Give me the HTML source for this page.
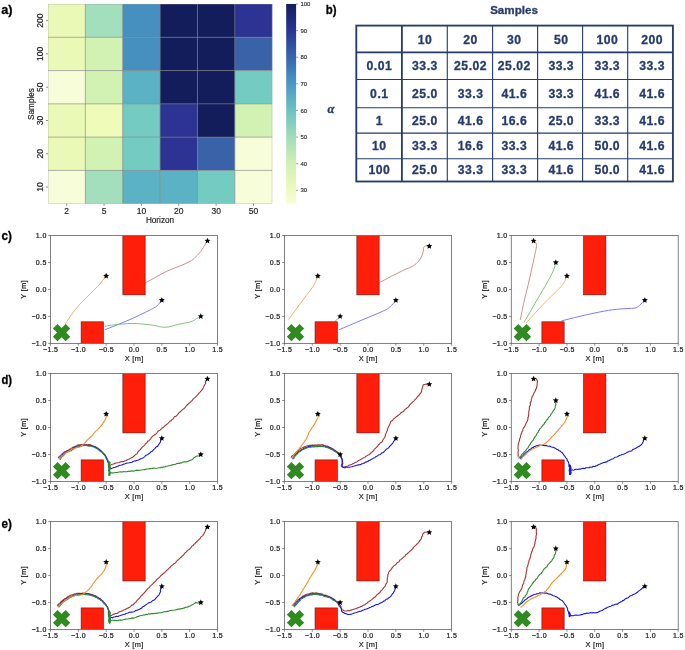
<!DOCTYPE html>
<html><head><meta charset="utf-8"><title>Figure</title>
<style>html,body{margin:0;padding:0;background:#fff;}body{width:685px;height:650px;overflow:hidden;font-family:"Liberation Sans",sans-serif;}svg{display:block;will-change:transform;}</style>
</head><body>
<svg width="685" height="650" viewBox="0 0 685 650"><rect x="48.00" y="4.00" width="37.42" height="33.33" fill="#ebf9b7"/>
<rect x="85.37" y="4.00" width="37.42" height="33.33" fill="#a3dfbd"/>
<rect x="122.73" y="4.00" width="37.42" height="33.33" fill="#4590be"/>
<rect x="160.10" y="4.00" width="37.42" height="33.33" fill="#131d5b"/>
<rect x="197.47" y="4.00" width="37.42" height="33.33" fill="#131d5b"/>
<rect x="234.83" y="4.00" width="37.42" height="33.33" fill="#2c3393"/>
<rect x="48.00" y="37.28" width="37.42" height="33.33" fill="#ebf9b7"/>
<rect x="85.37" y="37.28" width="37.42" height="33.33" fill="#d2f2b4"/>
<rect x="122.73" y="37.28" width="37.42" height="33.33" fill="#4590be"/>
<rect x="160.10" y="37.28" width="37.42" height="33.33" fill="#131d5b"/>
<rect x="197.47" y="37.28" width="37.42" height="33.33" fill="#131d5b"/>
<rect x="234.83" y="37.28" width="37.42" height="33.33" fill="#3a62a9"/>
<rect x="48.00" y="70.57" width="37.42" height="33.33" fill="#f7fdd8"/>
<rect x="85.37" y="70.57" width="37.42" height="33.33" fill="#d2f2b4"/>
<rect x="122.73" y="70.57" width="37.42" height="33.33" fill="#5ab2c4"/>
<rect x="160.10" y="70.57" width="37.42" height="33.33" fill="#131d5b"/>
<rect x="197.47" y="70.57" width="37.42" height="33.33" fill="#131d5b"/>
<rect x="234.83" y="70.57" width="37.42" height="33.33" fill="#74cbc2"/>
<rect x="48.00" y="103.85" width="37.42" height="33.33" fill="#ebf9b7"/>
<rect x="85.37" y="103.85" width="37.42" height="33.33" fill="#eefbb9"/>
<rect x="122.73" y="103.85" width="37.42" height="33.33" fill="#74cbc2"/>
<rect x="160.10" y="103.85" width="37.42" height="33.33" fill="#2c3393"/>
<rect x="197.47" y="103.85" width="37.42" height="33.33" fill="#131d5b"/>
<rect x="234.83" y="103.85" width="37.42" height="33.33" fill="#d2f2b4"/>
<rect x="48.00" y="137.13" width="37.42" height="33.33" fill="#ebf9b7"/>
<rect x="85.37" y="137.13" width="37.42" height="33.33" fill="#d2f2b4"/>
<rect x="122.73" y="137.13" width="37.42" height="33.33" fill="#74cbc2"/>
<rect x="160.10" y="137.13" width="37.42" height="33.33" fill="#2c3393"/>
<rect x="197.47" y="137.13" width="37.42" height="33.33" fill="#3a62a9"/>
<rect x="234.83" y="137.13" width="37.42" height="33.33" fill="#f7fdd8"/>
<rect x="48.00" y="170.42" width="37.42" height="33.33" fill="#f7fdd8"/>
<rect x="85.37" y="170.42" width="37.42" height="33.33" fill="#a3dfbd"/>
<rect x="122.73" y="170.42" width="37.42" height="33.33" fill="#5ab2c4"/>
<rect x="160.10" y="170.42" width="37.42" height="33.33" fill="#5ab2c4"/>
<rect x="197.47" y="170.42" width="37.42" height="33.33" fill="#74cbc2"/>
<rect x="234.83" y="170.42" width="37.42" height="33.33" fill="#f7fdd8"/>
<line x1="85.37" y1="4.0" x2="85.37" y2="203.7" stroke="#7c7c7c" stroke-width="0.6"/>
<line x1="122.73" y1="4.0" x2="122.73" y2="203.7" stroke="#7c7c7c" stroke-width="0.6"/>
<line x1="160.10" y1="4.0" x2="160.10" y2="203.7" stroke="#7c7c7c" stroke-width="0.6"/>
<line x1="197.47" y1="4.0" x2="197.47" y2="203.7" stroke="#7c7c7c" stroke-width="0.6"/>
<line x1="234.83" y1="4.0" x2="234.83" y2="203.7" stroke="#7c7c7c" stroke-width="0.6"/>
<line x1="48.0" y1="37.28" x2="272.2" y2="37.28" stroke="#7c7c7c" stroke-width="0.6"/>
<line x1="48.0" y1="70.57" x2="272.2" y2="70.57" stroke="#7c7c7c" stroke-width="0.6"/>
<line x1="48.0" y1="103.85" x2="272.2" y2="103.85" stroke="#7c7c7c" stroke-width="0.6"/>
<line x1="48.0" y1="137.13" x2="272.2" y2="137.13" stroke="#7c7c7c" stroke-width="0.6"/>
<line x1="48.0" y1="170.42" x2="272.2" y2="170.42" stroke="#7c7c7c" stroke-width="0.6"/>
<rect x="48.2" y="4.2" width="223.80" height="199.30" fill="none" stroke="#9a9a9a" stroke-width="0.4" opacity="0.7"/>
<line x1="46.0" y1="20.64" x2="48.0" y2="20.64" stroke="#555" stroke-width="0.7"/>
<text x="43.3" y="20.64" transform="rotate(-90 43.3 20.64)" text-anchor="middle" font-size="8.5" fill="#1e1e1e" stroke="#1e1e1e" stroke-width="0.18" font-family="Liberation Sans, sans-serif">200</text>
<line x1="46.0" y1="53.92" x2="48.0" y2="53.92" stroke="#555" stroke-width="0.7"/>
<text x="43.3" y="53.92" transform="rotate(-90 43.3 53.92)" text-anchor="middle" font-size="8.5" fill="#1e1e1e" stroke="#1e1e1e" stroke-width="0.18" font-family="Liberation Sans, sans-serif">100</text>
<line x1="46.0" y1="87.21" x2="48.0" y2="87.21" stroke="#555" stroke-width="0.7"/>
<text x="43.3" y="87.21" transform="rotate(-90 43.3 87.21)" text-anchor="middle" font-size="8.5" fill="#1e1e1e" stroke="#1e1e1e" stroke-width="0.18" font-family="Liberation Sans, sans-serif">50</text>
<line x1="46.0" y1="120.49" x2="48.0" y2="120.49" stroke="#555" stroke-width="0.7"/>
<text x="43.3" y="120.49" transform="rotate(-90 43.3 120.49)" text-anchor="middle" font-size="8.5" fill="#1e1e1e" stroke="#1e1e1e" stroke-width="0.18" font-family="Liberation Sans, sans-serif">30</text>
<line x1="46.0" y1="153.77" x2="48.0" y2="153.77" stroke="#555" stroke-width="0.7"/>
<text x="43.3" y="153.77" transform="rotate(-90 43.3 153.77)" text-anchor="middle" font-size="8.5" fill="#1e1e1e" stroke="#1e1e1e" stroke-width="0.18" font-family="Liberation Sans, sans-serif">20</text>
<line x1="46.0" y1="187.06" x2="48.0" y2="187.06" stroke="#555" stroke-width="0.7"/>
<text x="43.3" y="187.06" transform="rotate(-90 43.3 187.06)" text-anchor="middle" font-size="8.5" fill="#1e1e1e" stroke="#1e1e1e" stroke-width="0.18" font-family="Liberation Sans, sans-serif">10</text>
<line x1="66.68" y1="203.7" x2="66.68" y2="205.7" stroke="#555" stroke-width="0.7"/>
<text x="66.68" y="213.6" text-anchor="middle" font-size="8.5" fill="#1e1e1e" stroke="#1e1e1e" stroke-width="0.18" font-family="Liberation Sans, sans-serif">2</text>
<line x1="104.05" y1="203.7" x2="104.05" y2="205.7" stroke="#555" stroke-width="0.7"/>
<text x="104.05" y="213.6" text-anchor="middle" font-size="8.5" fill="#1e1e1e" stroke="#1e1e1e" stroke-width="0.18" font-family="Liberation Sans, sans-serif">5</text>
<line x1="141.42" y1="203.7" x2="141.42" y2="205.7" stroke="#555" stroke-width="0.7"/>
<text x="141.42" y="213.6" text-anchor="middle" font-size="8.5" fill="#1e1e1e" stroke="#1e1e1e" stroke-width="0.18" font-family="Liberation Sans, sans-serif">10</text>
<line x1="178.78" y1="203.7" x2="178.78" y2="205.7" stroke="#555" stroke-width="0.7"/>
<text x="178.78" y="213.6" text-anchor="middle" font-size="8.5" fill="#1e1e1e" stroke="#1e1e1e" stroke-width="0.18" font-family="Liberation Sans, sans-serif">20</text>
<line x1="216.15" y1="203.7" x2="216.15" y2="205.7" stroke="#555" stroke-width="0.7"/>
<text x="216.15" y="213.6" text-anchor="middle" font-size="8.5" fill="#1e1e1e" stroke="#1e1e1e" stroke-width="0.18" font-family="Liberation Sans, sans-serif">30</text>
<line x1="253.52" y1="203.7" x2="253.52" y2="205.7" stroke="#555" stroke-width="0.7"/>
<text x="253.52" y="213.6" text-anchor="middle" font-size="8.5" fill="#1e1e1e" stroke="#1e1e1e" stroke-width="0.18" font-family="Liberation Sans, sans-serif">50</text>
<text x="160" y="223.2" text-anchor="middle" font-size="8.2" fill="#1e1e1e" stroke="#1e1e1e" stroke-width="0.18" font-family="Liberation Sans, sans-serif">Horizon</text>
<text x="33.5" y="104" transform="rotate(-90 33.5 104)" text-anchor="middle" font-size="8.2" fill="#1e1e1e" stroke="#1e1e1e" stroke-width="0.18" font-family="Liberation Sans, sans-serif">Samples</text>
<defs><linearGradient id="cb" x1="0" y1="1" x2="0" y2="0"><stop offset="0.0" stop-color="#f8fdd4"/><stop offset="0.06666666666666667" stop-color="#eef9c0"/><stop offset="0.2" stop-color="#d2f0b2"/><stop offset="0.3333333333333333" stop-color="#a2dcbb"/><stop offset="0.4666666666666667" stop-color="#6cc2c2"/><stop offset="0.6" stop-color="#4a98c2"/><stop offset="0.7333333333333333" stop-color="#3866ab"/><stop offset="0.8666666666666667" stop-color="#2a3493"/><stop offset="1.0" stop-color="#141c5c"/></linearGradient></defs>
<rect x="286.2" y="4.0" width="9.90" height="199.60" fill="url(#cb)"/>
<line x1="296.1" y1="190.29" x2="298.1" y2="190.29" stroke="#555" stroke-width="0.6"/>
<text x="300.4" y="192.39" font-size="6" fill="#222" stroke="#222" stroke-width="0.12" font-family="Liberation Sans, sans-serif">30</text>
<line x1="296.1" y1="163.68" x2="298.1" y2="163.68" stroke="#555" stroke-width="0.6"/>
<text x="300.4" y="165.78" font-size="6" fill="#222" stroke="#222" stroke-width="0.12" font-family="Liberation Sans, sans-serif">40</text>
<line x1="296.1" y1="137.07" x2="298.1" y2="137.07" stroke="#555" stroke-width="0.6"/>
<text x="300.4" y="139.17" font-size="6" fill="#222" stroke="#222" stroke-width="0.12" font-family="Liberation Sans, sans-serif">50</text>
<line x1="296.1" y1="110.45" x2="298.1" y2="110.45" stroke="#555" stroke-width="0.6"/>
<text x="300.4" y="112.55" font-size="6" fill="#222" stroke="#222" stroke-width="0.12" font-family="Liberation Sans, sans-serif">60</text>
<line x1="296.1" y1="83.84" x2="298.1" y2="83.84" stroke="#555" stroke-width="0.6"/>
<text x="300.4" y="85.94" font-size="6" fill="#222" stroke="#222" stroke-width="0.12" font-family="Liberation Sans, sans-serif">70</text>
<line x1="296.1" y1="57.23" x2="298.1" y2="57.23" stroke="#555" stroke-width="0.6"/>
<text x="300.4" y="59.33" font-size="6" fill="#222" stroke="#222" stroke-width="0.12" font-family="Liberation Sans, sans-serif">80</text>
<line x1="296.1" y1="30.61" x2="298.1" y2="30.61" stroke="#555" stroke-width="0.6"/>
<text x="300.4" y="32.71" font-size="6" fill="#222" stroke="#222" stroke-width="0.12" font-family="Liberation Sans, sans-serif">90</text>
<line x1="296.1" y1="4.00" x2="298.1" y2="4.00" stroke="#555" stroke-width="0.6"/>
<text x="300.4" y="6.10" font-size="6" fill="#222" stroke="#222" stroke-width="0.12" font-family="Liberation Sans, sans-serif">100</text>
<text x="1.3" y="13.6" font-size="13" font-weight="bold" fill="#000" stroke="#000" stroke-width="0.3" textLength="11.3" lengthAdjust="spacingAndGlyphs" font-family="Liberation Sans, sans-serif">a)</text>
<text x="325.7" y="13.5" font-size="13" font-weight="bold" fill="#000" stroke="#000" stroke-width="0.3" textLength="10.8" lengthAdjust="spacingAndGlyphs" font-family="Liberation Sans, sans-serif">b)</text>
<line x1="447.3" y1="25.6" x2="447.3" y2="181.5" stroke="#263b6d" stroke-width="1.1"/>
<line x1="492.6" y1="25.6" x2="492.6" y2="181.5" stroke="#263b6d" stroke-width="1.1"/>
<line x1="537.6" y1="25.6" x2="537.6" y2="181.5" stroke="#263b6d" stroke-width="1.1"/>
<line x1="582.6" y1="25.6" x2="582.6" y2="181.5" stroke="#263b6d" stroke-width="1.1"/>
<line x1="627.7" y1="25.6" x2="627.7" y2="181.5" stroke="#263b6d" stroke-width="1.1"/>
<line x1="356.3" y1="79.5" x2="672.9" y2="79.5" stroke="#263b6d" stroke-width="1.1"/>
<line x1="356.3" y1="107.8" x2="672.9" y2="107.8" stroke="#263b6d" stroke-width="1.1"/>
<line x1="356.3" y1="133.1" x2="672.9" y2="133.1" stroke="#263b6d" stroke-width="1.1"/>
<line x1="356.3" y1="158.7" x2="672.9" y2="158.7" stroke="#263b6d" stroke-width="1.1"/>
<line x1="401.9" y1="25.6" x2="401.9" y2="181.5" stroke="#263b6d" stroke-width="1.8"/>
<line x1="356.3" y1="52.4" x2="672.9" y2="52.4" stroke="#263b6d" stroke-width="1.6"/>
<rect x="356.3" y="25.6" width="316.60" height="155.90" fill="none" stroke="#263b6d" stroke-width="1.85"/>
<text x="514" y="13.6" text-anchor="middle" font-size="11.6" font-weight="bold" fill="#263b6d" stroke="#263b6d" stroke-width="0.3" font-family="Liberation Sans, sans-serif">Samples</text>
<text x="331" y="112.8" text-anchor="middle" font-size="12.5" font-style="italic" font-weight="bold" fill="#263b6d" stroke="#263b6d" stroke-width="0.3" font-family="Liberation Serif, serif">&#945;</text>
<text x="424.95" y="43.90" text-anchor="middle" font-size="12.2" font-weight="bold" fill="#263b6d" stroke="#263b6d" stroke-width="0.3" font-family="Liberation Sans, sans-serif" letter-spacing="0.5">10</text>
<text x="470.60" y="43.90" text-anchor="middle" font-size="12.2" font-weight="bold" fill="#263b6d" stroke="#263b6d" stroke-width="0.3" font-family="Liberation Sans, sans-serif" letter-spacing="0.5">20</text>
<text x="514.35" y="43.90" text-anchor="middle" font-size="12.2" font-weight="bold" fill="#263b6d" stroke="#263b6d" stroke-width="0.3" font-family="Liberation Sans, sans-serif" letter-spacing="0.5">30</text>
<text x="561.30" y="43.90" text-anchor="middle" font-size="12.2" font-weight="bold" fill="#263b6d" stroke="#263b6d" stroke-width="0.3" font-family="Liberation Sans, sans-serif" letter-spacing="0.5">50</text>
<text x="607.30" y="43.90" text-anchor="middle" font-size="12.2" font-weight="bold" fill="#263b6d" stroke="#263b6d" stroke-width="0.3" font-family="Liberation Sans, sans-serif" letter-spacing="0.5">100</text>
<text x="652.15" y="43.90" text-anchor="middle" font-size="12.2" font-weight="bold" fill="#263b6d" stroke="#263b6d" stroke-width="0.3" font-family="Liberation Sans, sans-serif" letter-spacing="0.5">200</text>
<text x="379.35" y="70.25" text-anchor="middle" font-size="12.2" font-weight="bold" fill="#263b6d" stroke="#263b6d" stroke-width="0.3" font-family="Liberation Sans, sans-serif" letter-spacing="0.5">0.01</text>
<text x="424.95" y="70.25" text-anchor="middle" font-size="12.2" font-weight="bold" fill="#263b6d" stroke="#263b6d" stroke-width="0.3" font-family="Liberation Sans, sans-serif" letter-spacing="0.5">33.3</text>
<text x="470.60" y="70.25" text-anchor="middle" font-size="12.2" font-weight="bold" fill="#263b6d" stroke="#263b6d" stroke-width="0.3" font-family="Liberation Sans, sans-serif" letter-spacing="0.5">25.02</text>
<text x="514.35" y="70.25" text-anchor="middle" font-size="12.2" font-weight="bold" fill="#263b6d" stroke="#263b6d" stroke-width="0.3" font-family="Liberation Sans, sans-serif" letter-spacing="0.5">25.02</text>
<text x="561.30" y="70.25" text-anchor="middle" font-size="12.2" font-weight="bold" fill="#263b6d" stroke="#263b6d" stroke-width="0.3" font-family="Liberation Sans, sans-serif" letter-spacing="0.5">33.3</text>
<text x="607.30" y="70.25" text-anchor="middle" font-size="12.2" font-weight="bold" fill="#263b6d" stroke="#263b6d" stroke-width="0.3" font-family="Liberation Sans, sans-serif" letter-spacing="0.5">33.3</text>
<text x="652.15" y="70.25" text-anchor="middle" font-size="12.2" font-weight="bold" fill="#263b6d" stroke="#263b6d" stroke-width="0.3" font-family="Liberation Sans, sans-serif" letter-spacing="0.5">33.3</text>
<text x="379.35" y="97.95" text-anchor="middle" font-size="12.2" font-weight="bold" fill="#263b6d" stroke="#263b6d" stroke-width="0.3" font-family="Liberation Sans, sans-serif" letter-spacing="0.5">0.1</text>
<text x="424.95" y="97.95" text-anchor="middle" font-size="12.2" font-weight="bold" fill="#263b6d" stroke="#263b6d" stroke-width="0.3" font-family="Liberation Sans, sans-serif" letter-spacing="0.5">25.0</text>
<text x="470.60" y="97.95" text-anchor="middle" font-size="12.2" font-weight="bold" fill="#263b6d" stroke="#263b6d" stroke-width="0.3" font-family="Liberation Sans, sans-serif" letter-spacing="0.5">33.3</text>
<text x="514.35" y="97.95" text-anchor="middle" font-size="12.2" font-weight="bold" fill="#263b6d" stroke="#263b6d" stroke-width="0.3" font-family="Liberation Sans, sans-serif" letter-spacing="0.5">41.6</text>
<text x="561.30" y="97.95" text-anchor="middle" font-size="12.2" font-weight="bold" fill="#263b6d" stroke="#263b6d" stroke-width="0.3" font-family="Liberation Sans, sans-serif" letter-spacing="0.5">33.3</text>
<text x="607.30" y="97.95" text-anchor="middle" font-size="12.2" font-weight="bold" fill="#263b6d" stroke="#263b6d" stroke-width="0.3" font-family="Liberation Sans, sans-serif" letter-spacing="0.5">41.6</text>
<text x="652.15" y="97.95" text-anchor="middle" font-size="12.2" font-weight="bold" fill="#263b6d" stroke="#263b6d" stroke-width="0.3" font-family="Liberation Sans, sans-serif" letter-spacing="0.5">41.6</text>
<text x="379.35" y="124.75" text-anchor="middle" font-size="12.2" font-weight="bold" fill="#263b6d" stroke="#263b6d" stroke-width="0.3" font-family="Liberation Sans, sans-serif" letter-spacing="0.5">1</text>
<text x="424.95" y="124.75" text-anchor="middle" font-size="12.2" font-weight="bold" fill="#263b6d" stroke="#263b6d" stroke-width="0.3" font-family="Liberation Sans, sans-serif" letter-spacing="0.5">25.0</text>
<text x="470.60" y="124.75" text-anchor="middle" font-size="12.2" font-weight="bold" fill="#263b6d" stroke="#263b6d" stroke-width="0.3" font-family="Liberation Sans, sans-serif" letter-spacing="0.5">41.6</text>
<text x="514.35" y="124.75" text-anchor="middle" font-size="12.2" font-weight="bold" fill="#263b6d" stroke="#263b6d" stroke-width="0.3" font-family="Liberation Sans, sans-serif" letter-spacing="0.5">16.6</text>
<text x="561.30" y="124.75" text-anchor="middle" font-size="12.2" font-weight="bold" fill="#263b6d" stroke="#263b6d" stroke-width="0.3" font-family="Liberation Sans, sans-serif" letter-spacing="0.5">25.0</text>
<text x="607.30" y="124.75" text-anchor="middle" font-size="12.2" font-weight="bold" fill="#263b6d" stroke="#263b6d" stroke-width="0.3" font-family="Liberation Sans, sans-serif" letter-spacing="0.5">33.3</text>
<text x="652.15" y="124.75" text-anchor="middle" font-size="12.2" font-weight="bold" fill="#263b6d" stroke="#263b6d" stroke-width="0.3" font-family="Liberation Sans, sans-serif" letter-spacing="0.5">41.6</text>
<text x="379.35" y="150.20" text-anchor="middle" font-size="12.2" font-weight="bold" fill="#263b6d" stroke="#263b6d" stroke-width="0.3" font-family="Liberation Sans, sans-serif" letter-spacing="0.5">10</text>
<text x="424.95" y="150.20" text-anchor="middle" font-size="12.2" font-weight="bold" fill="#263b6d" stroke="#263b6d" stroke-width="0.3" font-family="Liberation Sans, sans-serif" letter-spacing="0.5">33.3</text>
<text x="470.60" y="150.20" text-anchor="middle" font-size="12.2" font-weight="bold" fill="#263b6d" stroke="#263b6d" stroke-width="0.3" font-family="Liberation Sans, sans-serif" letter-spacing="0.5">16.6</text>
<text x="514.35" y="150.20" text-anchor="middle" font-size="12.2" font-weight="bold" fill="#263b6d" stroke="#263b6d" stroke-width="0.3" font-family="Liberation Sans, sans-serif" letter-spacing="0.5">33.3</text>
<text x="561.30" y="150.20" text-anchor="middle" font-size="12.2" font-weight="bold" fill="#263b6d" stroke="#263b6d" stroke-width="0.3" font-family="Liberation Sans, sans-serif" letter-spacing="0.5">41.6</text>
<text x="607.30" y="150.20" text-anchor="middle" font-size="12.2" font-weight="bold" fill="#263b6d" stroke="#263b6d" stroke-width="0.3" font-family="Liberation Sans, sans-serif" letter-spacing="0.5">50.0</text>
<text x="652.15" y="150.20" text-anchor="middle" font-size="12.2" font-weight="bold" fill="#263b6d" stroke="#263b6d" stroke-width="0.3" font-family="Liberation Sans, sans-serif" letter-spacing="0.5">41.6</text>
<text x="379.35" y="174.40" text-anchor="middle" font-size="12.2" font-weight="bold" fill="#263b6d" stroke="#263b6d" stroke-width="0.3" font-family="Liberation Sans, sans-serif" letter-spacing="0.5">100</text>
<text x="424.95" y="174.40" text-anchor="middle" font-size="12.2" font-weight="bold" fill="#263b6d" stroke="#263b6d" stroke-width="0.3" font-family="Liberation Sans, sans-serif" letter-spacing="0.5">25.0</text>
<text x="470.60" y="174.40" text-anchor="middle" font-size="12.2" font-weight="bold" fill="#263b6d" stroke="#263b6d" stroke-width="0.3" font-family="Liberation Sans, sans-serif" letter-spacing="0.5">33.3</text>
<text x="514.35" y="174.40" text-anchor="middle" font-size="12.2" font-weight="bold" fill="#263b6d" stroke="#263b6d" stroke-width="0.3" font-family="Liberation Sans, sans-serif" letter-spacing="0.5">33.3</text>
<text x="561.30" y="174.40" text-anchor="middle" font-size="12.2" font-weight="bold" fill="#263b6d" stroke="#263b6d" stroke-width="0.3" font-family="Liberation Sans, sans-serif" letter-spacing="0.5">41.6</text>
<text x="607.30" y="174.40" text-anchor="middle" font-size="12.2" font-weight="bold" fill="#263b6d" stroke="#263b6d" stroke-width="0.3" font-family="Liberation Sans, sans-serif" letter-spacing="0.5">50.0</text>
<text x="652.15" y="174.40" text-anchor="middle" font-size="12.2" font-weight="bold" fill="#263b6d" stroke="#263b6d" stroke-width="0.3" font-family="Liberation Sans, sans-serif" letter-spacing="0.5">41.6</text>
<defs><clipPath id="c00"><rect x="50.5" y="235.5" width="167.00" height="107.90"/></clipPath></defs>
<g clip-path="url(#c00)">
<path d="M143.5,284.1 C145.4,283.0 151.2,279.6 155.0,277.5 C158.8,275.4 163.0,273.1 166.3,271.5 C169.6,269.9 172.0,269.0 175.0,267.8 C178.0,266.6 181.4,265.4 184.2,264.2 C186.9,263.0 189.5,261.8 191.5,260.5 C193.5,259.2 194.8,257.6 196.0,256.5 C197.2,255.4 197.9,254.9 198.9,253.7 C199.9,252.5 201.1,250.7 202.0,249.5 C202.9,248.3 203.5,247.3 204.1,246.3 C204.7,245.3 205.3,244.4 205.8,243.5 C206.3,242.6 207.0,241.2 207.2,240.8" fill="none" stroke="#d28e8e" stroke-width="1.0" stroke-linejoin="round" stroke-linecap="round" opacity="1.0"/>
<path d="M105.3,329.6 C109.4,327.9 122.1,323.0 130.0,319.5 C137.9,316.0 147.8,311.2 152.6,308.6 C157.4,306.1 157.2,305.6 158.7,304.2 C160.2,302.8 161.2,300.9 161.7,300.2" fill="none" stroke="#7a7aff" stroke-width="1.0" stroke-linejoin="round" stroke-linecap="round" opacity="1.0"/>
<path d="M105.3,326.1 C107.8,325.8 115.0,324.6 120.0,324.2 C125.0,323.8 129.6,323.3 135.0,323.5 C140.4,323.7 147.6,324.6 152.6,325.2 C157.6,325.8 160.4,327.4 164.8,327.3 C169.2,327.2 174.4,325.2 178.8,324.3 C183.2,323.4 188.2,322.6 191.1,321.7 C194.0,320.8 194.8,319.6 196.4,318.7 C198.0,317.8 199.7,316.9 200.4,316.5" fill="none" stroke="#7dc27d" stroke-width="1.0" stroke-linejoin="round" stroke-linecap="round" opacity="1.0"/>
<path d="M65.6,323.4 C66.7,321.8 69.6,317.2 72.0,314.0 C74.4,310.8 77.3,307.0 80.0,304.0 C82.7,301.0 85.5,298.5 88.0,296.0 C90.5,293.5 93.0,291.0 95.0,289.0 C97.0,287.0 98.7,285.5 100.0,284.0 C101.3,282.5 102.2,281.1 103.0,280.0 C103.8,278.9 104.3,278.2 104.8,277.5 C105.3,276.8 105.8,276.2 106.0,276.0" fill="none" stroke="#ecb46e" stroke-width="1.0" stroke-linejoin="round" stroke-linecap="round" opacity="1.0"/>
<rect x="122.87" y="233.50" width="22.27" height="61.34" fill="#ff1e0a" stroke="#5a1010" stroke-width="0.6"/>
<rect x="81.12" y="321.82" width="22.27" height="23.58" fill="#ff1e0a" stroke="#5a1010" stroke-width="0.6"/>
<polygon points="65.65,323.95 70.25,328.54 66.18,332.61 70.25,336.68 65.65,341.27 61.58,337.21 57.52,341.27 52.92,336.68 56.99,332.61 52.92,328.54 57.52,323.95 61.58,328.01" fill="#2f8a1f"/>
<polygon points="106.17,272.86 107.02,274.79 109.11,275.00 107.55,276.41 107.99,278.47 106.17,277.41 104.34,278.47 104.79,276.41 103.22,275.00 105.31,274.79" fill="#000"/>
<polygon points="207.48,237.80 208.33,239.72 210.43,239.94 208.86,241.34 209.30,243.40 207.48,242.34 205.66,243.40 206.10,241.34 204.53,239.94 206.63,239.72" fill="#000"/>
<polygon points="161.83,297.14 162.69,299.07 164.78,299.28 163.21,300.69 163.66,302.75 161.83,301.69 160.01,302.75 160.45,300.69 158.89,299.28 160.98,299.07" fill="#000"/>
<polygon points="200.80,313.32 201.65,315.25 203.75,315.47 202.18,316.87 202.62,318.93 200.80,317.87 198.98,318.93 199.42,316.87 197.85,315.47 199.95,315.25" fill="#000"/>
</g>
<rect x="50.5" y="235.5" width="167.00" height="107.90" fill="none" stroke="#6a6a6a" stroke-width="0.85"/>
<line x1="50.50" y1="343.4" x2="50.50" y2="345.7" stroke="#595959" stroke-width="0.7"/>
<text x="50.67" y="352.10" text-anchor="middle" font-size="7" letter-spacing="0.35" fill="#1a1a1a" stroke="#1a1a1a" stroke-width="0.22" font-family="Liberation Sans, sans-serif">−1.5</text>
<line x1="78.33" y1="343.4" x2="78.33" y2="345.7" stroke="#595959" stroke-width="0.7"/>
<text x="78.50" y="352.10" text-anchor="middle" font-size="7" letter-spacing="0.35" fill="#1a1a1a" stroke="#1a1a1a" stroke-width="0.22" font-family="Liberation Sans, sans-serif">−1.0</text>
<line x1="106.17" y1="343.4" x2="106.17" y2="345.7" stroke="#595959" stroke-width="0.7"/>
<text x="106.34" y="352.10" text-anchor="middle" font-size="7" letter-spacing="0.35" fill="#1a1a1a" stroke="#1a1a1a" stroke-width="0.22" font-family="Liberation Sans, sans-serif">−0.5</text>
<line x1="134.00" y1="343.4" x2="134.00" y2="345.7" stroke="#595959" stroke-width="0.7"/>
<text x="134.17" y="352.10" text-anchor="middle" font-size="7" letter-spacing="0.35" fill="#1a1a1a" stroke="#1a1a1a" stroke-width="0.22" font-family="Liberation Sans, sans-serif">0.0</text>
<line x1="161.83" y1="343.4" x2="161.83" y2="345.7" stroke="#595959" stroke-width="0.7"/>
<text x="162.00" y="352.10" text-anchor="middle" font-size="7" letter-spacing="0.35" fill="#1a1a1a" stroke="#1a1a1a" stroke-width="0.22" font-family="Liberation Sans, sans-serif">0.5</text>
<line x1="189.67" y1="343.4" x2="189.67" y2="345.7" stroke="#595959" stroke-width="0.7"/>
<text x="189.84" y="352.10" text-anchor="middle" font-size="7" letter-spacing="0.35" fill="#1a1a1a" stroke="#1a1a1a" stroke-width="0.22" font-family="Liberation Sans, sans-serif">1.0</text>
<line x1="217.50" y1="343.4" x2="217.50" y2="345.7" stroke="#595959" stroke-width="0.7"/>
<text x="217.67" y="352.10" text-anchor="middle" font-size="7" letter-spacing="0.35" fill="#1a1a1a" stroke="#1a1a1a" stroke-width="0.22" font-family="Liberation Sans, sans-serif">1.5</text>
<line x1="48.2" y1="343.40" x2="50.5" y2="343.40" stroke="#595959" stroke-width="0.7"/>
<text x="46.65" y="345.90" text-anchor="end" font-size="7" letter-spacing="0.35" fill="#1a1a1a" stroke="#1a1a1a" stroke-width="0.22" font-family="Liberation Sans, sans-serif">−1.0</text>
<line x1="48.2" y1="316.42" x2="50.5" y2="316.42" stroke="#595959" stroke-width="0.7"/>
<text x="46.65" y="318.92" text-anchor="end" font-size="7" letter-spacing="0.35" fill="#1a1a1a" stroke="#1a1a1a" stroke-width="0.22" font-family="Liberation Sans, sans-serif">−0.5</text>
<line x1="48.2" y1="289.45" x2="50.5" y2="289.45" stroke="#595959" stroke-width="0.7"/>
<text x="46.65" y="291.95" text-anchor="end" font-size="7" letter-spacing="0.35" fill="#1a1a1a" stroke="#1a1a1a" stroke-width="0.22" font-family="Liberation Sans, sans-serif">0.0</text>
<line x1="48.2" y1="262.48" x2="50.5" y2="262.48" stroke="#595959" stroke-width="0.7"/>
<text x="46.65" y="264.98" text-anchor="end" font-size="7" letter-spacing="0.35" fill="#1a1a1a" stroke="#1a1a1a" stroke-width="0.22" font-family="Liberation Sans, sans-serif">0.5</text>
<line x1="48.2" y1="235.50" x2="50.5" y2="235.50" stroke="#595959" stroke-width="0.7"/>
<text x="46.65" y="238.00" text-anchor="end" font-size="7" letter-spacing="0.35" fill="#1a1a1a" stroke="#1a1a1a" stroke-width="0.22" font-family="Liberation Sans, sans-serif">1.0</text>
<text x="134.15" y="360.60" text-anchor="middle" font-size="7.4" letter-spacing="0.3" fill="#1a1a1a" stroke="#1a1a1a" stroke-width="0.2" font-family="Liberation Sans, sans-serif">X [m]</text>
<text x="26.00" y="289.60" transform="rotate(-90 26.00 289.45)" text-anchor="middle" font-size="7.4" letter-spacing="0.3" fill="#1a1a1a" stroke="#1a1a1a" stroke-width="0.2" font-family="Liberation Sans, sans-serif">Y [m]</text>
<defs><clipPath id="c01"><rect x="284.4" y="235.5" width="167.20" height="107.90"/></clipPath></defs>
<g clip-path="url(#c01)">
<path d="M379.9,282.3 C382.4,281.0 390.8,276.6 395.0,274.5 C399.2,272.4 402.1,270.9 405.0,269.5 C407.9,268.1 410.4,267.7 412.7,266.3 C415.0,264.9 417.2,262.9 418.8,261.0 C420.4,259.1 421.5,256.7 422.3,254.9 C423.1,253.1 423.2,251.2 423.4,250.0 C423.6,248.8 423.4,248.4 423.6,247.8 C423.8,247.2 424.0,246.9 424.5,246.6 C425.0,246.2 425.9,245.8 426.7,245.7 C427.5,245.6 428.7,245.9 429.1,246.0" fill="none" stroke="#d28e8e" stroke-width="1.0" stroke-linejoin="round" stroke-linecap="round" opacity="1.0"/>
<path d="M339.3,329.6 C343.1,328.0 354.4,323.2 362.0,320.0 C369.6,316.8 379.8,312.8 384.8,310.3 C389.8,307.8 390.0,306.8 391.8,305.1 C393.6,303.4 395.1,301.0 395.8,300.2" fill="none" stroke="#7a7aff" stroke-width="1.0" stroke-linejoin="round" stroke-linecap="round" opacity="1.0"/>
<path d="M334.4,321.8 C334.9,321.3 336.5,319.9 337.5,319.0 C338.5,318.1 339.9,317.0 340.4,316.6" fill="none" stroke="#7dc27d" stroke-width="1.0" stroke-linejoin="round" stroke-linecap="round" opacity="1.0"/>
<path d="M288.7,319.3 C290.7,316.5 297.2,307.7 300.9,302.7 C304.6,297.7 308.7,292.6 311.1,289.2 C313.5,285.8 314.3,284.2 315.3,282.4 C316.3,280.6 316.6,279.3 317.0,278.2 C317.4,277.1 317.8,276.0 318.0,275.6" fill="none" stroke="#ecb46e" stroke-width="1.0" stroke-linejoin="round" stroke-linecap="round" opacity="1.0"/>
<rect x="356.85" y="233.50" width="22.29" height="61.34" fill="#ff1e0a" stroke="#5a1010" stroke-width="0.6"/>
<rect x="315.05" y="321.82" width="22.29" height="23.58" fill="#ff1e0a" stroke="#5a1010" stroke-width="0.6"/>
<polygon points="299.56,323.95 304.16,328.54 300.09,332.61 304.16,336.68 299.56,341.27 295.50,337.21 291.43,341.27 286.83,336.68 290.90,332.61 286.83,328.54 291.43,323.95 295.50,328.01" fill="#2f8a1f"/>
<polygon points="317.84,272.86 318.69,274.79 320.79,275.00 319.22,276.41 319.66,278.47 317.84,277.41 316.02,278.47 316.46,276.41 314.89,275.00 316.99,274.79" fill="#000"/>
<polygon points="429.31,243.19 430.16,245.12 432.25,245.33 430.69,246.74 431.13,248.80 429.31,247.74 427.48,248.80 427.93,246.74 426.36,245.33 428.45,245.12" fill="#000"/>
<polygon points="395.87,297.14 396.72,299.07 398.81,299.28 397.25,300.69 397.69,302.75 395.87,301.69 394.04,302.75 394.49,300.69 392.92,299.28 395.01,299.07" fill="#000"/>
<polygon points="340.13,313.32 340.99,315.25 343.08,315.47 341.51,316.87 341.96,318.93 340.13,317.87 338.31,318.93 338.75,316.87 337.19,315.47 339.28,315.25" fill="#000"/>
</g>
<rect x="284.4" y="235.5" width="167.20" height="107.90" fill="none" stroke="#6a6a6a" stroke-width="0.85"/>
<line x1="284.40" y1="343.4" x2="284.40" y2="345.7" stroke="#595959" stroke-width="0.7"/>
<text x="284.57" y="352.10" text-anchor="middle" font-size="7" letter-spacing="0.35" fill="#1a1a1a" stroke="#1a1a1a" stroke-width="0.22" font-family="Liberation Sans, sans-serif">−1.5</text>
<line x1="312.27" y1="343.4" x2="312.27" y2="345.7" stroke="#595959" stroke-width="0.7"/>
<text x="312.44" y="352.10" text-anchor="middle" font-size="7" letter-spacing="0.35" fill="#1a1a1a" stroke="#1a1a1a" stroke-width="0.22" font-family="Liberation Sans, sans-serif">−1.0</text>
<line x1="340.13" y1="343.4" x2="340.13" y2="345.7" stroke="#595959" stroke-width="0.7"/>
<text x="340.30" y="352.10" text-anchor="middle" font-size="7" letter-spacing="0.35" fill="#1a1a1a" stroke="#1a1a1a" stroke-width="0.22" font-family="Liberation Sans, sans-serif">−0.5</text>
<line x1="368.00" y1="343.4" x2="368.00" y2="345.7" stroke="#595959" stroke-width="0.7"/>
<text x="368.17" y="352.10" text-anchor="middle" font-size="7" letter-spacing="0.35" fill="#1a1a1a" stroke="#1a1a1a" stroke-width="0.22" font-family="Liberation Sans, sans-serif">0.0</text>
<line x1="395.87" y1="343.4" x2="395.87" y2="345.7" stroke="#595959" stroke-width="0.7"/>
<text x="396.04" y="352.10" text-anchor="middle" font-size="7" letter-spacing="0.35" fill="#1a1a1a" stroke="#1a1a1a" stroke-width="0.22" font-family="Liberation Sans, sans-serif">0.5</text>
<line x1="423.73" y1="343.4" x2="423.73" y2="345.7" stroke="#595959" stroke-width="0.7"/>
<text x="423.90" y="352.10" text-anchor="middle" font-size="7" letter-spacing="0.35" fill="#1a1a1a" stroke="#1a1a1a" stroke-width="0.22" font-family="Liberation Sans, sans-serif">1.0</text>
<line x1="451.60" y1="343.4" x2="451.60" y2="345.7" stroke="#595959" stroke-width="0.7"/>
<text x="451.77" y="352.10" text-anchor="middle" font-size="7" letter-spacing="0.35" fill="#1a1a1a" stroke="#1a1a1a" stroke-width="0.22" font-family="Liberation Sans, sans-serif">1.5</text>
<line x1="282.09999999999997" y1="343.40" x2="284.4" y2="343.40" stroke="#595959" stroke-width="0.7"/>
<text x="280.55" y="345.90" text-anchor="end" font-size="7" letter-spacing="0.35" fill="#1a1a1a" stroke="#1a1a1a" stroke-width="0.22" font-family="Liberation Sans, sans-serif">−1.0</text>
<line x1="282.09999999999997" y1="316.42" x2="284.4" y2="316.42" stroke="#595959" stroke-width="0.7"/>
<text x="280.55" y="318.92" text-anchor="end" font-size="7" letter-spacing="0.35" fill="#1a1a1a" stroke="#1a1a1a" stroke-width="0.22" font-family="Liberation Sans, sans-serif">−0.5</text>
<line x1="282.09999999999997" y1="289.45" x2="284.4" y2="289.45" stroke="#595959" stroke-width="0.7"/>
<text x="280.55" y="291.95" text-anchor="end" font-size="7" letter-spacing="0.35" fill="#1a1a1a" stroke="#1a1a1a" stroke-width="0.22" font-family="Liberation Sans, sans-serif">0.0</text>
<line x1="282.09999999999997" y1="262.48" x2="284.4" y2="262.48" stroke="#595959" stroke-width="0.7"/>
<text x="280.55" y="264.98" text-anchor="end" font-size="7" letter-spacing="0.35" fill="#1a1a1a" stroke="#1a1a1a" stroke-width="0.22" font-family="Liberation Sans, sans-serif">0.5</text>
<line x1="282.09999999999997" y1="235.50" x2="284.4" y2="235.50" stroke="#595959" stroke-width="0.7"/>
<text x="280.55" y="238.00" text-anchor="end" font-size="7" letter-spacing="0.35" fill="#1a1a1a" stroke="#1a1a1a" stroke-width="0.22" font-family="Liberation Sans, sans-serif">1.0</text>
<text x="368.15" y="360.60" text-anchor="middle" font-size="7.4" letter-spacing="0.3" fill="#1a1a1a" stroke="#1a1a1a" stroke-width="0.2" font-family="Liberation Sans, sans-serif">X [m]</text>
<text x="259.90" y="289.60" transform="rotate(-90 259.90 289.45)" text-anchor="middle" font-size="7.4" letter-spacing="0.3" fill="#1a1a1a" stroke="#1a1a1a" stroke-width="0.2" font-family="Liberation Sans, sans-serif">Y [m]</text>
<defs><clipPath id="c02"><rect x="511.3" y="235.5" width="166.90" height="107.90"/></clipPath></defs>
<g clip-path="url(#c02)">
<path d="M520.3,319.6 C520.9,316.7 522.7,307.6 524.0,302.0 C525.3,296.4 526.6,291.1 527.9,285.8 C529.1,280.5 530.4,275.1 531.5,270.0 C532.6,264.9 533.9,259.2 534.7,255.3 C535.5,251.4 536.2,248.9 536.4,246.8 C536.6,244.7 536.5,243.6 536.0,242.6 C535.5,241.6 533.9,240.9 533.5,240.6" fill="none" stroke="#d28e8e" stroke-width="1.0" stroke-linejoin="round" stroke-linecap="round" opacity="1.0"/>
<path d="M561.8,320.8 C564.8,320.1 573.0,317.9 580.0,316.3 C587.0,314.7 597.1,312.4 603.8,311.2 C610.5,310.0 614.9,309.5 620.0,309.0 C625.1,308.5 631.3,308.5 634.3,308.1 C637.3,307.7 636.9,307.3 638.0,306.6 C639.1,305.9 640.1,304.8 641.0,304.0 C641.9,303.2 642.6,302.2 643.2,301.6 C643.8,301.0 644.5,300.4 644.8,300.2" fill="none" stroke="#7a7aff" stroke-width="1.0" stroke-linejoin="round" stroke-linecap="round" opacity="1.0"/>
<path d="M524.2,322.1 C526.2,318.6 532.4,307.9 536.4,301.0 C540.4,294.1 545.2,286.1 548.2,280.7 C551.2,275.3 552.9,271.6 554.1,268.8 C555.3,266.0 555.0,264.9 555.3,263.8 C555.6,262.7 555.7,262.4 555.8,262.1" fill="none" stroke="#7dc27d" stroke-width="1.0" stroke-linejoin="round" stroke-linecap="round" opacity="1.0"/>
<path d="M526.2,323.0 C528.8,320.2 535.9,312.0 541.5,306.1 C547.1,300.2 556.2,291.7 560.1,287.5 C564.0,283.3 564.1,282.4 565.1,280.7 C566.1,279.0 565.7,278.1 566.0,277.3 C566.3,276.5 566.7,276.2 566.8,276.0" fill="none" stroke="#ecb46e" stroke-width="1.0" stroke-linejoin="round" stroke-linecap="round" opacity="1.0"/>
<rect x="583.62" y="233.50" width="22.25" height="61.34" fill="#ff1e0a" stroke="#5a1010" stroke-width="0.6"/>
<rect x="541.90" y="321.82" width="22.25" height="23.58" fill="#ff1e0a" stroke="#5a1010" stroke-width="0.6"/>
<polygon points="526.44,323.95 531.04,328.54 526.97,332.61 531.04,336.68 526.44,341.27 522.38,337.21 518.31,341.27 513.71,336.68 517.78,332.61 513.71,328.54 518.31,323.95 522.38,328.01" fill="#2f8a1f"/>
<polygon points="566.93,272.86 567.79,274.79 569.88,275.00 568.31,276.41 568.76,278.47 566.93,277.41 565.11,278.47 565.55,276.41 563.99,275.00 566.08,274.79" fill="#000"/>
<polygon points="533.55,237.80 534.41,239.72 536.50,239.94 534.93,241.34 535.38,243.40 533.55,242.34 531.73,243.40 532.17,241.34 530.61,239.94 532.70,239.72" fill="#000"/>
<polygon points="555.81,259.38 556.66,261.30 558.75,261.52 557.19,262.92 557.63,264.98 555.81,263.93 553.98,264.98 554.43,262.92 552.86,261.52 554.95,261.30" fill="#000"/>
<polygon points="644.82,297.14 645.67,299.07 647.77,299.28 646.20,300.69 646.64,302.75 644.82,301.69 643.00,302.75 643.44,300.69 641.87,299.28 643.97,299.07" fill="#000"/>
</g>
<rect x="511.3" y="235.5" width="166.90" height="107.90" fill="none" stroke="#6a6a6a" stroke-width="0.85"/>
<line x1="511.30" y1="343.4" x2="511.30" y2="345.7" stroke="#595959" stroke-width="0.7"/>
<text x="511.47" y="352.10" text-anchor="middle" font-size="7" letter-spacing="0.35" fill="#1a1a1a" stroke="#1a1a1a" stroke-width="0.22" font-family="Liberation Sans, sans-serif">−1.5</text>
<line x1="539.12" y1="343.4" x2="539.12" y2="345.7" stroke="#595959" stroke-width="0.7"/>
<text x="539.29" y="352.10" text-anchor="middle" font-size="7" letter-spacing="0.35" fill="#1a1a1a" stroke="#1a1a1a" stroke-width="0.22" font-family="Liberation Sans, sans-serif">−1.0</text>
<line x1="566.93" y1="343.4" x2="566.93" y2="345.7" stroke="#595959" stroke-width="0.7"/>
<text x="567.10" y="352.10" text-anchor="middle" font-size="7" letter-spacing="0.35" fill="#1a1a1a" stroke="#1a1a1a" stroke-width="0.22" font-family="Liberation Sans, sans-serif">−0.5</text>
<line x1="594.75" y1="343.4" x2="594.75" y2="345.7" stroke="#595959" stroke-width="0.7"/>
<text x="594.92" y="352.10" text-anchor="middle" font-size="7" letter-spacing="0.35" fill="#1a1a1a" stroke="#1a1a1a" stroke-width="0.22" font-family="Liberation Sans, sans-serif">0.0</text>
<line x1="622.57" y1="343.4" x2="622.57" y2="345.7" stroke="#595959" stroke-width="0.7"/>
<text x="622.74" y="352.10" text-anchor="middle" font-size="7" letter-spacing="0.35" fill="#1a1a1a" stroke="#1a1a1a" stroke-width="0.22" font-family="Liberation Sans, sans-serif">0.5</text>
<line x1="650.38" y1="343.4" x2="650.38" y2="345.7" stroke="#595959" stroke-width="0.7"/>
<text x="650.55" y="352.10" text-anchor="middle" font-size="7" letter-spacing="0.35" fill="#1a1a1a" stroke="#1a1a1a" stroke-width="0.22" font-family="Liberation Sans, sans-serif">1.0</text>
<line x1="678.20" y1="343.4" x2="678.20" y2="345.7" stroke="#595959" stroke-width="0.7"/>
<text x="678.37" y="352.10" text-anchor="middle" font-size="7" letter-spacing="0.35" fill="#1a1a1a" stroke="#1a1a1a" stroke-width="0.22" font-family="Liberation Sans, sans-serif">1.5</text>
<line x1="509.0" y1="343.40" x2="511.3" y2="343.40" stroke="#595959" stroke-width="0.7"/>
<text x="507.45" y="345.90" text-anchor="end" font-size="7" letter-spacing="0.35" fill="#1a1a1a" stroke="#1a1a1a" stroke-width="0.22" font-family="Liberation Sans, sans-serif">−1.0</text>
<line x1="509.0" y1="316.42" x2="511.3" y2="316.42" stroke="#595959" stroke-width="0.7"/>
<text x="507.45" y="318.92" text-anchor="end" font-size="7" letter-spacing="0.35" fill="#1a1a1a" stroke="#1a1a1a" stroke-width="0.22" font-family="Liberation Sans, sans-serif">−0.5</text>
<line x1="509.0" y1="289.45" x2="511.3" y2="289.45" stroke="#595959" stroke-width="0.7"/>
<text x="507.45" y="291.95" text-anchor="end" font-size="7" letter-spacing="0.35" fill="#1a1a1a" stroke="#1a1a1a" stroke-width="0.22" font-family="Liberation Sans, sans-serif">0.0</text>
<line x1="509.0" y1="262.48" x2="511.3" y2="262.48" stroke="#595959" stroke-width="0.7"/>
<text x="507.45" y="264.98" text-anchor="end" font-size="7" letter-spacing="0.35" fill="#1a1a1a" stroke="#1a1a1a" stroke-width="0.22" font-family="Liberation Sans, sans-serif">0.5</text>
<line x1="509.0" y1="235.50" x2="511.3" y2="235.50" stroke="#595959" stroke-width="0.7"/>
<text x="507.45" y="238.00" text-anchor="end" font-size="7" letter-spacing="0.35" fill="#1a1a1a" stroke="#1a1a1a" stroke-width="0.22" font-family="Liberation Sans, sans-serif">1.0</text>
<text x="594.90" y="360.60" text-anchor="middle" font-size="7.4" letter-spacing="0.3" fill="#1a1a1a" stroke="#1a1a1a" stroke-width="0.2" font-family="Liberation Sans, sans-serif">X [m]</text>
<text x="486.80" y="289.60" transform="rotate(-90 486.80 289.45)" text-anchor="middle" font-size="7.4" letter-spacing="0.3" fill="#1a1a1a" stroke="#1a1a1a" stroke-width="0.2" font-family="Liberation Sans, sans-serif">Y [m]</text>
<defs><clipPath id="c10"><rect x="50.5" y="373.5" width="167.00" height="108.00"/></clipPath></defs>
<g clip-path="url(#c10)">
<path d="M58.45,457.65 L59.01,456.80 L60.16,455.87 L61.20,455.02 L62.09,454.03 L63.26,452.96 L64.37,451.89 L65.80,451.56 L66.78,450.50 L68.27,450.37 L69.44,449.42 L70.95,448.56 L71.99,448.11 L72.68,447.35 L73.96,447.15 L75.08,446.38 L76.56,445.70 L77.68,445.07 L78.77,444.80 L80.57,444.71 L81.73,444.68 L83.22,444.44 L84.84,444.68 L85.89,444.61 L87.47,444.87 L89.00,444.62 L90.56,444.75 L91.60,445.51 L92.61,445.74 L93.73,446.34 L95.39,446.83 L96.64,447.29 L97.67,448.16 L98.70,448.82 L99.94,449.95 L100.77,450.67 L101.54,451.66 L102.90,452.86 L103.92,453.45 L104.48,454.76 L104.99,455.76 L105.76,456.78 L106.29,458.47 L106.88,459.38 L107.54,460.92 L107.78,461.62 L108.49,463.51 L108.84,464.71 L109.41,465.00 L110.25,465.26 L111.62,464.57 L112.25,464.27 L113.53,463.99 L115.06,463.37 L116.02,463.01 L117.57,462.69 L119.12,462.46 L120.08,462.12 L121.48,461.46 L122.94,461.62 L124.24,461.31 L125.21,460.71 L126.25,460.47 L127.37,459.67 L128.65,459.22 L129.81,458.64 L130.61,458.16 L131.67,457.69 L132.63,457.31 L134.07,456.02 L134.99,455.15 L135.84,454.28 L136.95,454.02 L137.52,452.82 L138.11,451.64 L139.13,450.77 L140.30,449.69 L140.67,449.17 L141.89,447.61 L142.81,446.49 L143.73,446.07 L144.88,444.88 L145.31,443.82 L146.07,443.22 L147.13,442.36 L147.85,441.13 L149.01,440.74 L149.90,439.74 L150.76,438.82 L151.27,437.79 L152.25,436.59 L152.95,435.86 L154.02,435.24 L155.40,434.20 L156.33,433.66 L157.23,432.46 L157.65,431.57 L158.55,430.77 L159.74,430.43 L160.80,429.38 L161.62,428.80 L162.20,427.93 L163.68,427.21 L164.54,426.21 L165.15,425.60 L166.23,424.77 L167.64,423.66 L168.27,423.14 L169.49,421.74 L169.96,420.96 L171.32,420.60 L171.72,419.81 L173.14,418.88 L173.64,417.98 L174.41,416.80 L175.87,416.35 L176.51,415.68 L177.37,414.78 L178.54,413.49 L179.09,412.68 L179.99,412.00 L180.91,411.04 L181.72,410.50 L182.74,409.37 L183.76,408.83 L184.50,408.02 L185.51,406.85 L186.49,405.59 L187.40,404.75 L188.09,404.21 L189.16,403.06 L190.47,402.17 L191.16,401.22 L192.23,400.47 L192.85,399.42 L193.82,398.35 L195.01,397.63 L195.69,396.95 L196.69,395.94 L197.23,395.20 L197.86,394.57 L199.00,393.15 L200.08,392.18 L201.17,390.99 L202.18,389.51 L202.69,388.94 L203.54,387.47 L203.68,386.77 L204.18,385.78 L204.89,384.54 L205.65,383.42 L205.39,382.23 L205.95,380.92 L206.93,379.95 L207.35,378.75" fill="none" stroke="#a83434" stroke-width="1.1" stroke-linejoin="round" stroke-linecap="round"/>
<path d="M59.30,458.50 L59.74,458.14 L60.70,456.93 L62.09,456.07 L62.65,454.69 L63.98,453.57 L64.81,452.68 L66.31,451.68 L67.36,451.28 L68.21,450.61 L69.81,450.14 L70.72,449.81 L72.29,449.20 L73.01,448.10 L74.14,447.78 L75.48,446.74 L76.77,446.70 L78.20,445.85 L79.18,445.89 L80.85,445.49 L81.94,444.92 L83.72,445.08 L84.73,445.38 L86.49,445.32 L87.53,445.43 L88.92,445.60 L90.57,445.52 L92.03,446.27 L93.03,446.17 L94.39,446.72 L95.32,447.23 L96.46,447.88 L97.78,448.63 L99.17,449.37 L100.07,450.11 L101.04,450.90 L102.01,451.86 L103.30,453.21 L103.87,454.21 L105.18,455.05 L105.85,456.39 L106.32,457.85 L106.86,458.89 L107.59,460.45 L107.86,461.57 L108.53,462.59 L108.66,463.82 L108.54,465.16 L108.65,466.92 L109.05,467.65 L109.63,468.72 L110.93,468.70 L111.54,468.25 L112.68,468.02 L113.83,467.51 L115.20,467.29 L116.99,466.48 L117.84,466.30 L119.03,465.57 L120.02,465.25 L121.54,464.98 L122.61,464.63 L123.75,464.11 L125.10,463.83 L126.38,463.20 L127.87,462.93 L129.26,462.75 L130.62,462.47 L131.88,462.24 L132.96,461.51 L134.64,461.00 L135.76,460.90 L136.59,460.59 L138.37,459.98 L139.45,459.60 L140.21,458.88 L141.55,458.52 L142.83,457.93 L143.75,457.36 L144.86,456.60 L145.59,455.51 L146.55,455.04 L147.54,454.64 L148.84,453.78 L149.91,453.04 L150.87,451.77 L152.12,451.36 L152.98,450.32 L154.10,449.11 L155.12,448.34 L155.60,447.49 L156.83,446.64 L157.55,446.40 L158.63,444.58 L159.46,443.52 L160.25,442.37 L160.69,441.03 L161.12,439.44 L161.70,438.50" fill="none" stroke="#1414f5" stroke-width="1.1" stroke-linejoin="round" stroke-linecap="round"/>
<path d="M60.10,459.30 L60.81,458.53 L61.46,457.42 L62.04,456.51 L63.42,455.66 L64.44,454.34 L65.31,453.58 L66.41,452.55 L67.85,451.93 L69.10,451.81 L69.71,450.92 L71.50,450.60 L72.38,449.53 L73.37,449.28 L74.55,448.36 L75.70,447.66 L77.41,446.83 L78.50,446.61 L79.95,446.33 L80.93,446.16 L82.49,445.42 L83.58,445.62 L85.27,445.47 L86.47,445.53 L87.98,445.94 L89.18,446.07 L91.12,445.95 L92.57,446.74 L93.74,446.90 L94.59,447.49 L96.19,448.22 L96.96,448.78 L98.05,449.25 L99.05,450.51 L100.24,451.39 L101.27,451.83 L102.46,452.70 L103.36,454.16 L104.60,455.07 L105.28,456.16 L106.26,457.02 L106.84,457.87 L107.52,459.32 L108.12,460.65 L108.34,461.43 L109.17,462.56 L109.31,464.15 L109.41,465.73 L109.94,466.73 L109.80,468.17 L109.75,469.60 L109.44,471.00 L109.38,472.99 L109.50,473.82 L109.76,475.12 L109.30,474.29 L110.00,473.04 L111.00,472.84 L112.11,472.77 L113.71,473.01 L115.34,472.55 L116.70,472.47 L118.22,472.20 L119.12,472.05 L120.76,471.86 L121.52,472.10 L122.86,471.75 L123.67,471.67 L125.07,471.69 L126.90,471.80 L128.54,471.09 L129.01,471.42 L130.66,471.14 L131.63,470.70 L132.73,471.15 L134.29,470.95 L135.70,470.40 L136.49,470.17 L138.12,470.34 L139.76,470.19 L140.94,470.05 L142.17,469.75 L143.22,469.73 L144.63,469.66 L146.12,469.12 L146.96,468.94 L148.69,469.06 L149.72,468.51 L151.32,468.70 L152.54,468.34 L153.96,468.08 L155.02,468.24 L156.68,468.22 L157.86,467.98 L158.65,467.68 L160.31,467.81 L161.09,467.19 L162.40,467.41 L163.62,466.90 L165.02,467.07 L165.94,466.22 L167.19,466.18 L168.58,465.74 L169.82,465.77 L170.81,465.11 L172.29,464.86 L173.40,464.48 L174.25,464.49 L175.57,464.29 L176.83,463.52 L177.86,463.39 L179.40,463.44 L180.35,462.79 L181.70,462.86 L182.96,461.97 L184.20,461.89 L185.99,461.90 L187.08,461.67 L188.35,460.95 L188.92,461.05 L190.23,460.18 L191.01,460.12 L192.72,459.17 L193.66,458.04 L194.49,457.41 L195.89,456.56 L197.30,456.07 L198.45,456.04 L200.14,455.48 L200.90,455.30" fill="none" stroke="#2c8a2c" stroke-width="1.1" stroke-linejoin="round" stroke-linecap="round"/>
<path d="M59.40,458.90 L59.78,458.35 L60.67,457.77 L61.51,456.65 L62.79,455.55 L63.63,454.89 L64.78,453.68 L65.41,452.93 L67.00,452.11 L68.16,451.57 L69.22,450.61 L70.65,450.12 L71.50,449.59 L72.86,448.82 L74.00,448.56 L75.58,448.13 L76.78,447.51 L77.98,447.32 L79.69,447.19 L80.95,446.20 L81.94,445.55 L83.15,444.48 L84.13,443.65 L85.18,442.57 L86.14,441.33 L86.93,440.48 L88.04,439.47 L88.74,438.84 L89.68,437.66 L90.49,436.97 L91.43,436.29 L92.55,435.31 L93.12,434.00 L93.83,433.23 L94.86,432.29 L95.49,431.37 L96.52,430.61 L97.46,429.86 L98.33,428.75 L99.32,427.93 L100.13,426.95 L101.01,425.87 L101.67,424.76 L102.51,423.82 L103.50,422.40 L104.16,421.56 L104.80,420.29 L105.65,418.92 L106.09,417.46 L106.19,416.73 L106.87,415.58 L107.10,414.70" fill="none" stroke="#f59022" stroke-width="1.1" stroke-linejoin="round" stroke-linecap="round"/>
<path d="M109.6,462.5 L108.8,465.0 L109.8,467.5 L108.9,470.0 L109.7,472.5 L109.2,475.0" fill="none" stroke="#2c8a2c" stroke-width="2.2" stroke-linejoin="round" stroke-linecap="round" opacity="1.0"/>
<rect x="122.87" y="371.50" width="22.27" height="61.40" fill="#ff1e0a" stroke="#5a1010" stroke-width="0.6"/>
<rect x="81.12" y="459.90" width="22.27" height="23.60" fill="#ff1e0a" stroke="#5a1010" stroke-width="0.6"/>
<polygon points="65.65,462.04 70.25,466.63 66.18,470.70 70.25,474.77 65.65,479.36 61.58,475.30 57.52,479.36 52.92,474.77 56.99,470.70 52.92,466.63 57.52,462.04 61.58,466.10" fill="#2f8a1f"/>
<polygon points="106.17,410.90 107.02,412.83 109.11,413.04 107.55,414.45 107.99,416.51 106.17,415.45 104.34,416.51 104.79,414.45 103.22,413.04 105.31,412.83" fill="#000"/>
<polygon points="207.48,375.80 208.33,377.73 210.43,377.94 208.86,379.35 209.30,381.41 207.48,380.35 205.66,381.41 206.10,379.35 204.53,377.94 206.63,377.73" fill="#000"/>
<polygon points="161.83,435.20 162.69,437.13 164.78,437.34 163.21,438.75 163.66,440.81 161.83,439.75 160.01,440.81 160.45,438.75 158.89,437.34 160.98,437.13" fill="#000"/>
<polygon points="200.80,451.40 201.65,453.33 203.75,453.54 202.18,454.95 202.62,457.01 200.80,455.95 198.98,457.01 199.42,454.95 197.85,453.54 199.95,453.33" fill="#000"/>
</g>
<rect x="50.5" y="373.5" width="167.00" height="108.00" fill="none" stroke="#6a6a6a" stroke-width="0.85"/>
<line x1="50.50" y1="481.5" x2="50.50" y2="483.8" stroke="#595959" stroke-width="0.7"/>
<text x="50.67" y="490.20" text-anchor="middle" font-size="7" letter-spacing="0.35" fill="#1a1a1a" stroke="#1a1a1a" stroke-width="0.22" font-family="Liberation Sans, sans-serif">−1.5</text>
<line x1="78.33" y1="481.5" x2="78.33" y2="483.8" stroke="#595959" stroke-width="0.7"/>
<text x="78.50" y="490.20" text-anchor="middle" font-size="7" letter-spacing="0.35" fill="#1a1a1a" stroke="#1a1a1a" stroke-width="0.22" font-family="Liberation Sans, sans-serif">−1.0</text>
<line x1="106.17" y1="481.5" x2="106.17" y2="483.8" stroke="#595959" stroke-width="0.7"/>
<text x="106.34" y="490.20" text-anchor="middle" font-size="7" letter-spacing="0.35" fill="#1a1a1a" stroke="#1a1a1a" stroke-width="0.22" font-family="Liberation Sans, sans-serif">−0.5</text>
<line x1="134.00" y1="481.5" x2="134.00" y2="483.8" stroke="#595959" stroke-width="0.7"/>
<text x="134.17" y="490.20" text-anchor="middle" font-size="7" letter-spacing="0.35" fill="#1a1a1a" stroke="#1a1a1a" stroke-width="0.22" font-family="Liberation Sans, sans-serif">0.0</text>
<line x1="161.83" y1="481.5" x2="161.83" y2="483.8" stroke="#595959" stroke-width="0.7"/>
<text x="162.00" y="490.20" text-anchor="middle" font-size="7" letter-spacing="0.35" fill="#1a1a1a" stroke="#1a1a1a" stroke-width="0.22" font-family="Liberation Sans, sans-serif">0.5</text>
<line x1="189.67" y1="481.5" x2="189.67" y2="483.8" stroke="#595959" stroke-width="0.7"/>
<text x="189.84" y="490.20" text-anchor="middle" font-size="7" letter-spacing="0.35" fill="#1a1a1a" stroke="#1a1a1a" stroke-width="0.22" font-family="Liberation Sans, sans-serif">1.0</text>
<line x1="217.50" y1="481.5" x2="217.50" y2="483.8" stroke="#595959" stroke-width="0.7"/>
<text x="217.67" y="490.20" text-anchor="middle" font-size="7" letter-spacing="0.35" fill="#1a1a1a" stroke="#1a1a1a" stroke-width="0.22" font-family="Liberation Sans, sans-serif">1.5</text>
<line x1="48.2" y1="481.50" x2="50.5" y2="481.50" stroke="#595959" stroke-width="0.7"/>
<text x="46.65" y="484.00" text-anchor="end" font-size="7" letter-spacing="0.35" fill="#1a1a1a" stroke="#1a1a1a" stroke-width="0.22" font-family="Liberation Sans, sans-serif">−1.0</text>
<line x1="48.2" y1="454.50" x2="50.5" y2="454.50" stroke="#595959" stroke-width="0.7"/>
<text x="46.65" y="457.00" text-anchor="end" font-size="7" letter-spacing="0.35" fill="#1a1a1a" stroke="#1a1a1a" stroke-width="0.22" font-family="Liberation Sans, sans-serif">−0.5</text>
<line x1="48.2" y1="427.50" x2="50.5" y2="427.50" stroke="#595959" stroke-width="0.7"/>
<text x="46.65" y="430.00" text-anchor="end" font-size="7" letter-spacing="0.35" fill="#1a1a1a" stroke="#1a1a1a" stroke-width="0.22" font-family="Liberation Sans, sans-serif">0.0</text>
<line x1="48.2" y1="400.50" x2="50.5" y2="400.50" stroke="#595959" stroke-width="0.7"/>
<text x="46.65" y="403.00" text-anchor="end" font-size="7" letter-spacing="0.35" fill="#1a1a1a" stroke="#1a1a1a" stroke-width="0.22" font-family="Liberation Sans, sans-serif">0.5</text>
<line x1="48.2" y1="373.50" x2="50.5" y2="373.50" stroke="#595959" stroke-width="0.7"/>
<text x="46.65" y="376.00" text-anchor="end" font-size="7" letter-spacing="0.35" fill="#1a1a1a" stroke="#1a1a1a" stroke-width="0.22" font-family="Liberation Sans, sans-serif">1.0</text>
<text x="134.15" y="498.70" text-anchor="middle" font-size="7.4" letter-spacing="0.3" fill="#1a1a1a" stroke="#1a1a1a" stroke-width="0.2" font-family="Liberation Sans, sans-serif">X [m]</text>
<text x="26.00" y="427.65" transform="rotate(-90 26.00 427.50)" text-anchor="middle" font-size="7.4" letter-spacing="0.3" fill="#1a1a1a" stroke="#1a1a1a" stroke-width="0.2" font-family="Liberation Sans, sans-serif">Y [m]</text>
<defs><clipPath id="c11"><rect x="284.4" y="373.5" width="167.20" height="108.00"/></clipPath></defs>
<g clip-path="url(#c11)">
<path d="M291.25,457.25 L291.54,456.53 L292.35,455.66 L293.81,454.95 L294.79,453.76 L295.83,452.73 L296.55,451.88 L298.09,450.50 L298.91,450.03 L299.82,449.11 L300.94,448.32 L302.19,447.96 L303.65,447.16 L304.47,446.76 L306.16,446.23 L307.23,445.86 L308.75,445.79 L309.56,445.27 L311.10,445.36 L312.60,444.92 L313.62,445.19 L315.06,444.84 L316.21,445.20 L317.33,444.89 L318.93,444.74 L320.64,445.11 L321.60,444.67 L323.09,444.82 L323.93,445.51 L325.36,445.74 L326.52,446.15 L327.74,446.12 L328.61,446.83 L330.11,447.54 L330.79,447.83 L332.38,448.48 L333.54,449.11 L334.97,450.32 L335.80,450.84 L337.53,452.12 L338.24,452.57 L339.73,454.45 L340.05,454.96 L340.93,456.44 L341.47,457.97 L341.89,459.07 L342.23,460.47 L342.02,462.36 L342.01,463.61 L341.37,465.33 L341.66,466.56 L342.21,467.09 L343.33,467.53 L343.81,467.17 L345.35,466.56 L346.61,466.22 L347.76,466.01 L349.16,465.29 L350.43,464.85 L351.86,464.25 L353.27,463.45 L354.34,462.93 L355.68,462.17 L356.93,461.98 L357.84,461.02 L358.98,460.36 L359.90,459.94 L361.03,459.29 L362.44,458.37 L363.65,457.72 L364.82,457.49 L365.74,456.35 L366.77,455.88 L368.03,455.06 L368.88,454.97 L369.90,454.01 L370.59,453.27 L371.75,452.39 L372.94,451.02 L373.73,450.65 L374.10,449.42 L375.34,448.46 L376.20,447.70 L376.90,446.81 L377.45,446.52 L378.30,445.04 L379.47,444.08 L380.09,443.04 L381.04,442.58 L382.19,441.59 L382.63,440.51 L383.30,439.27 L384.27,437.99 L384.98,436.88 L385.28,435.80 L385.43,434.57 L386.21,432.88 L386.76,431.53 L387.36,430.50 L387.45,429.41 L387.99,427.82 L388.66,426.53 L389.19,425.49 L389.57,424.84 L390.06,423.59 L390.43,422.23 L390.95,421.32 L391.94,420.79 L392.59,420.43 L393.31,419.19 L395.05,417.84 L395.32,417.46 L396.16,416.81 L397.07,416.25 L398.21,415.26 L399.19,414.66 L399.87,414.14 L400.96,412.80 L401.91,412.24 L403.45,411.45 L404.19,410.22 L404.97,409.56 L406.33,408.46 L407.34,407.61 L408.43,406.93 L408.92,406.11 L409.75,404.89 L410.96,403.70 L411.72,403.02 L412.67,401.84 L414.23,400.55 L414.70,399.82 L415.80,398.85 L416.86,397.59 L417.34,396.76 L417.92,396.28 L419.05,395.39 L419.13,394.77 L420.99,392.62 L421.67,391.30 L421.66,390.05 L421.98,388.95 L422.38,387.87 L422.74,386.53 L423.09,385.10 L424.19,384.47 L425.83,384.26 L427.22,384.18 L428.75,384.05" fill="none" stroke="#a83434" stroke-width="1.1" stroke-linejoin="round" stroke-linecap="round"/>
<path d="M292.20,458.10 L293.03,457.35 L293.67,456.44 L294.09,455.65 L295.32,455.08 L296.32,453.64 L297.42,452.61 L298.04,452.05 L299.28,451.12 L300.43,450.55 L301.45,449.76 L302.78,449.15 L303.83,448.49 L305.16,447.72 L306.20,447.47 L307.43,447.26 L308.68,446.41 L309.94,446.76 L311.42,446.08 L312.55,445.88 L314.31,446.16 L315.60,446.15 L316.41,446.00 L317.71,446.10 L319.58,446.10 L320.48,446.09 L322.30,446.20 L323.04,445.87 L324.35,446.00 L325.98,446.79 L327.02,447.16 L328.20,447.25 L329.01,447.59 L330.54,448.14 L331.28,448.75 L332.51,449.37 L333.97,450.44 L335.22,450.98 L336.70,451.90 L337.90,452.95 L338.47,453.81 L339.76,455.37 L340.33,456.41 L341.07,457.35 L341.87,458.61 L342.37,460.01 L342.28,461.31 L342.82,463.48 L342.03,464.93 L342.41,466.62 L343.40,467.30 L344.26,467.62 L345.14,467.71 L346.23,467.20 L347.70,467.28 L348.62,467.20 L349.97,467.08 L351.78,466.83 L353.17,466.26 L354.45,465.97 L356.16,465.44 L357.49,465.05 L358.31,464.85 L359.96,464.63 L360.83,464.46 L361.93,463.74 L363.32,463.44 L364.65,462.87 L365.57,462.13 L366.61,461.91 L368.10,461.28 L368.93,460.51 L370.45,460.02 L371.16,459.36 L372.75,458.63 L373.40,458.08 L374.84,457.80 L375.60,456.72 L376.76,456.18 L378.03,455.41 L378.98,454.75 L380.44,454.42 L380.90,453.90 L381.88,452.86 L383.39,452.46 L384.12,451.59 L384.61,451.09 L385.70,449.89 L386.92,448.86 L387.88,448.45 L388.94,447.37 L389.71,446.47 L390.16,445.71 L391.04,444.96 L392.06,443.96 L392.90,442.85 L393.76,441.18 L394.77,440.35 L395.48,439.18 L395.80,438.30" fill="none" stroke="#1414f5" stroke-width="1.1" stroke-linejoin="round" stroke-linecap="round"/>
<path d="M293.10,458.90 L293.80,458.44 L294.29,457.51 L294.82,456.68 L295.51,455.51 L296.85,454.63 L297.69,453.30 L298.51,452.48 L299.58,451.64 L300.70,451.19 L301.53,450.29 L303.09,449.46 L304.13,449.23 L305.10,448.41 L306.47,448.09 L308.28,447.51 L308.95,447.25 L310.52,447.11 L311.82,446.88 L313.37,446.67 L314.43,446.85 L315.58,446.61 L316.92,446.61 L317.86,446.71 L319.58,446.08 L320.91,446.32 L322.03,446.43 L323.54,446.77 L324.81,446.75 L325.88,447.35 L327.51,447.58 L328.23,448.18 L329.50,448.26 L330.43,449.10 L331.90,449.49 L333.08,450.17 L334.20,451.20 L335.47,451.79 L336.90,452.70 L337.84,453.26 L339.04,454.10 L340.22,455.11 L340.70,455.80" fill="none" stroke="#2c8a2c" stroke-width="1.1" stroke-linejoin="round" stroke-linecap="round"/>
<path d="M292.20,457.60 L292.78,456.94 L293.17,456.19 L293.88,455.29 L294.48,454.52 L295.42,453.27 L296.29,452.25 L297.21,451.18 L298.16,449.94 L298.98,449.22 L299.40,448.23 L300.55,447.19 L301.08,446.15 L302.11,444.76 L302.69,444.06 L303.74,442.73 L304.26,441.66 L305.00,440.93 L305.64,439.76 L306.65,438.61 L306.95,437.34 L307.60,436.06 L308.06,434.90 L308.60,433.67 L308.98,432.38 L309.77,431.30 L310.46,430.26 L311.28,428.91 L311.94,427.76 L312.81,426.64 L313.53,425.60 L314.20,424.70 L314.91,423.62 L315.34,422.37 L316.12,421.04 L316.75,420.00 L317.12,418.78 L317.78,417.73 L318.52,415.98 L318.90,414.80" fill="none" stroke="#f59022" stroke-width="1.1" stroke-linejoin="round" stroke-linecap="round"/>
<rect x="356.85" y="371.50" width="22.29" height="61.40" fill="#ff1e0a" stroke="#5a1010" stroke-width="0.6"/>
<rect x="315.05" y="459.90" width="22.29" height="23.60" fill="#ff1e0a" stroke="#5a1010" stroke-width="0.6"/>
<polygon points="299.56,462.04 304.16,466.63 300.09,470.70 304.16,474.77 299.56,479.36 295.50,475.30 291.43,479.36 286.83,474.77 290.90,470.70 286.83,466.63 291.43,462.04 295.50,466.10" fill="#2f8a1f"/>
<polygon points="317.84,410.90 318.69,412.83 320.79,413.04 319.22,414.45 319.66,416.51 317.84,415.45 316.02,416.51 316.46,414.45 314.89,413.04 316.99,412.83" fill="#000"/>
<polygon points="429.31,381.20 430.16,383.13 432.25,383.34 430.69,384.75 431.13,386.81 429.31,385.75 427.48,386.81 427.93,384.75 426.36,383.34 428.45,383.13" fill="#000"/>
<polygon points="395.87,435.20 396.72,437.13 398.81,437.34 397.25,438.75 397.69,440.81 395.87,439.75 394.04,440.81 394.49,438.75 392.92,437.34 395.01,437.13" fill="#000"/>
<polygon points="340.13,451.40 340.99,453.33 343.08,453.54 341.51,454.95 341.96,457.01 340.13,455.95 338.31,457.01 338.75,454.95 337.19,453.54 339.28,453.33" fill="#000"/>
</g>
<rect x="284.4" y="373.5" width="167.20" height="108.00" fill="none" stroke="#6a6a6a" stroke-width="0.85"/>
<line x1="284.40" y1="481.5" x2="284.40" y2="483.8" stroke="#595959" stroke-width="0.7"/>
<text x="284.57" y="490.20" text-anchor="middle" font-size="7" letter-spacing="0.35" fill="#1a1a1a" stroke="#1a1a1a" stroke-width="0.22" font-family="Liberation Sans, sans-serif">−1.5</text>
<line x1="312.27" y1="481.5" x2="312.27" y2="483.8" stroke="#595959" stroke-width="0.7"/>
<text x="312.44" y="490.20" text-anchor="middle" font-size="7" letter-spacing="0.35" fill="#1a1a1a" stroke="#1a1a1a" stroke-width="0.22" font-family="Liberation Sans, sans-serif">−1.0</text>
<line x1="340.13" y1="481.5" x2="340.13" y2="483.8" stroke="#595959" stroke-width="0.7"/>
<text x="340.30" y="490.20" text-anchor="middle" font-size="7" letter-spacing="0.35" fill="#1a1a1a" stroke="#1a1a1a" stroke-width="0.22" font-family="Liberation Sans, sans-serif">−0.5</text>
<line x1="368.00" y1="481.5" x2="368.00" y2="483.8" stroke="#595959" stroke-width="0.7"/>
<text x="368.17" y="490.20" text-anchor="middle" font-size="7" letter-spacing="0.35" fill="#1a1a1a" stroke="#1a1a1a" stroke-width="0.22" font-family="Liberation Sans, sans-serif">0.0</text>
<line x1="395.87" y1="481.5" x2="395.87" y2="483.8" stroke="#595959" stroke-width="0.7"/>
<text x="396.04" y="490.20" text-anchor="middle" font-size="7" letter-spacing="0.35" fill="#1a1a1a" stroke="#1a1a1a" stroke-width="0.22" font-family="Liberation Sans, sans-serif">0.5</text>
<line x1="423.73" y1="481.5" x2="423.73" y2="483.8" stroke="#595959" stroke-width="0.7"/>
<text x="423.90" y="490.20" text-anchor="middle" font-size="7" letter-spacing="0.35" fill="#1a1a1a" stroke="#1a1a1a" stroke-width="0.22" font-family="Liberation Sans, sans-serif">1.0</text>
<line x1="451.60" y1="481.5" x2="451.60" y2="483.8" stroke="#595959" stroke-width="0.7"/>
<text x="451.77" y="490.20" text-anchor="middle" font-size="7" letter-spacing="0.35" fill="#1a1a1a" stroke="#1a1a1a" stroke-width="0.22" font-family="Liberation Sans, sans-serif">1.5</text>
<line x1="282.09999999999997" y1="481.50" x2="284.4" y2="481.50" stroke="#595959" stroke-width="0.7"/>
<text x="280.55" y="484.00" text-anchor="end" font-size="7" letter-spacing="0.35" fill="#1a1a1a" stroke="#1a1a1a" stroke-width="0.22" font-family="Liberation Sans, sans-serif">−1.0</text>
<line x1="282.09999999999997" y1="454.50" x2="284.4" y2="454.50" stroke="#595959" stroke-width="0.7"/>
<text x="280.55" y="457.00" text-anchor="end" font-size="7" letter-spacing="0.35" fill="#1a1a1a" stroke="#1a1a1a" stroke-width="0.22" font-family="Liberation Sans, sans-serif">−0.5</text>
<line x1="282.09999999999997" y1="427.50" x2="284.4" y2="427.50" stroke="#595959" stroke-width="0.7"/>
<text x="280.55" y="430.00" text-anchor="end" font-size="7" letter-spacing="0.35" fill="#1a1a1a" stroke="#1a1a1a" stroke-width="0.22" font-family="Liberation Sans, sans-serif">0.0</text>
<line x1="282.09999999999997" y1="400.50" x2="284.4" y2="400.50" stroke="#595959" stroke-width="0.7"/>
<text x="280.55" y="403.00" text-anchor="end" font-size="7" letter-spacing="0.35" fill="#1a1a1a" stroke="#1a1a1a" stroke-width="0.22" font-family="Liberation Sans, sans-serif">0.5</text>
<line x1="282.09999999999997" y1="373.50" x2="284.4" y2="373.50" stroke="#595959" stroke-width="0.7"/>
<text x="280.55" y="376.00" text-anchor="end" font-size="7" letter-spacing="0.35" fill="#1a1a1a" stroke="#1a1a1a" stroke-width="0.22" font-family="Liberation Sans, sans-serif">1.0</text>
<text x="368.15" y="498.70" text-anchor="middle" font-size="7.4" letter-spacing="0.3" fill="#1a1a1a" stroke="#1a1a1a" stroke-width="0.2" font-family="Liberation Sans, sans-serif">X [m]</text>
<text x="259.90" y="427.65" transform="rotate(-90 259.90 427.50)" text-anchor="middle" font-size="7.4" letter-spacing="0.3" fill="#1a1a1a" stroke="#1a1a1a" stroke-width="0.2" font-family="Liberation Sans, sans-serif">Y [m]</text>
<defs><clipPath id="c12"><rect x="511.3" y="373.5" width="166.90" height="108.00"/></clipPath></defs>
<g clip-path="url(#c12)">
<path d="M518.25,456.35 L517.93,455.68 L518.32,454.90 L518.05,453.77 L518.11,452.16 L518.33,450.48 L518.20,449.44 L517.97,448.18 L518.05,446.58 L518.27,445.52 L518.25,444.00 L518.63,442.80 L519.17,441.37 L519.50,440.19 L519.65,438.86 L520.03,438.06 L520.53,436.70 L520.74,435.13 L521.13,434.15 L521.79,433.07 L521.90,431.81 L522.95,430.47 L522.92,429.10 L523.40,427.87 L524.47,427.04 L524.75,426.14 L525.31,425.12 L525.89,423.60 L526.60,422.51 L527.16,421.24 L527.66,420.02 L527.97,418.79 L527.80,417.68 L528.36,417.09 L528.44,415.52 L528.72,414.50 L528.75,412.81 L528.82,411.50 L529.02,410.44 L529.43,409.60 L529.26,408.14 L529.47,406.58 L530.19,405.59 L530.50,404.23 L530.16,402.95 L530.78,402.12 L531.29,400.73 L531.19,399.50 L531.82,398.14 L532.02,396.80 L532.47,396.16 L533.09,395.33 L533.60,394.26 L534.11,392.64 L534.97,391.64 L535.46,390.45 L535.48,389.67 L536.33,388.58 L536.71,386.97 L536.93,386.28 L537.13,384.79 L537.18,383.18 L537.51,381.10 L536.94,380.35 L536.55,378.76 L535.03,378.70 L533.80,378.67 L533.15,378.55" fill="none" stroke="#a83434" stroke-width="1.1" stroke-linejoin="round" stroke-linecap="round"/>
<path d="M520.30,458.40 L520.87,457.51 L521.56,457.02 L522.51,456.11 L523.34,455.11 L524.56,453.89 L525.84,452.65 L526.78,451.87 L528.18,450.98 L528.96,449.88 L529.68,449.54 L531.16,448.70 L531.99,447.86 L533.49,447.36 L534.33,446.46 L535.29,446.34 L536.32,445.82 L537.67,445.64 L539.00,445.06 L539.68,444.96 L541.15,445.17 L542.60,445.43 L543.30,445.49 L545.00,445.64 L546.06,445.39 L547.45,445.91 L548.55,446.20 L549.55,445.94 L550.90,446.73 L551.89,447.09 L553.58,447.23 L554.45,447.99 L555.48,448.23 L556.48,449.17 L557.96,449.62 L558.60,450.52 L560.10,450.86 L560.96,452.01 L562.05,452.51 L562.70,453.44 L563.35,454.12 L564.11,455.43 L564.92,456.34 L565.59,457.33 L566.02,458.03 L567.12,459.22 L567.25,460.73 L568.28,461.76 L568.67,463.22 L569.05,464.35 L569.10,466.31 L569.90,467.49 L569.86,469.01 L570.09,470.70 L570.31,472.20 L570.40,473.10 L569.57,471.89 L571.51,470.10 L572.15,469.84 L573.32,470.18 L574.24,470.05 L575.63,469.30 L576.62,469.32 L577.57,469.49 L578.99,469.05 L580.60,469.10 L582.01,468.54 L583.28,468.18 L585.00,468.51 L585.90,467.69 L587.25,467.68 L588.94,467.82 L590.10,467.05 L591.18,467.26 L592.09,467.21 L593.22,466.30 L594.98,466.45 L596.11,465.68 L597.14,465.61 L597.85,464.95 L598.96,464.42 L600.13,464.02 L601.08,463.54 L602.56,462.95 L603.94,462.50 L604.50,462.56 L605.67,462.12 L607.19,461.61 L607.87,460.82 L609.02,460.60 L610.69,459.87 L611.66,459.13 L613.12,458.66 L614.21,457.89 L615.15,457.29 L616.64,457.07 L617.42,456.75 L618.60,455.96 L619.59,455.39 L621.02,454.99 L621.99,454.48 L623.43,454.18 L624.58,453.69 L625.77,453.13 L627.34,452.21 L628.35,451.78 L629.31,451.26 L630.45,451.29 L631.90,450.77 L632.34,449.87 L634.11,449.07 L635.24,448.57 L636.60,447.74 L637.63,447.29 L638.27,446.43 L639.69,446.13 L640.15,445.45 L641.36,444.72 L642.22,443.52 L642.59,442.81 L643.33,441.42 L643.33,440.44 L644.53,439.18 L645.00,438.20" fill="none" stroke="#1414f5" stroke-width="1.1" stroke-linejoin="round" stroke-linecap="round"/>
<path d="M518.90,457.90 L519.28,457.14 L520.18,456.71 L521.13,455.75 L521.66,454.42 L522.97,453.58 L523.95,452.26 L524.98,451.34 L525.91,450.62 L526.50,449.09 L527.57,448.35 L528.29,447.23 L528.56,446.61 L529.36,445.20 L530.05,444.46 L530.52,443.36 L531.55,442.23 L532.16,441.14 L533.24,440.28 L533.58,439.16 L534.30,438.12 L534.79,437.09 L536.07,435.72 L536.51,434.60 L537.26,433.14 L538.26,432.13 L538.48,430.95 L539.24,430.33 L539.80,428.84 L541.00,427.82 L541.33,427.03 L542.46,425.96 L543.32,424.68 L544.20,424.08 L544.44,422.72 L545.49,421.98 L546.10,420.76 L546.92,419.77 L547.76,419.23 L548.20,418.01 L549.34,416.67 L550.15,416.06 L550.63,414.63 L551.65,413.60 L552.08,412.79 L552.99,411.38 L553.25,410.40 L553.91,409.92 L554.59,409.06 L555.35,407.35 L555.21,405.84 L555.94,405.04 L555.64,403.75 L556.12,402.10 L556.10,401.20" fill="none" stroke="#2c8a2c" stroke-width="1.1" stroke-linejoin="round" stroke-linecap="round"/>
<path d="M520.90,459.30 L521.49,458.52 L522.22,457.87 L522.96,456.73 L524.36,455.90 L525.42,454.72 L526.48,453.73 L527.61,452.38 L528.56,451.61 L529.59,450.88 L530.58,450.47 L531.67,449.58 L532.71,449.08 L533.96,448.48 L534.78,448.10 L535.78,447.56 L537.18,447.01 L538.10,446.46 L539.37,445.92 L540.36,445.54 L541.60,445.25 L542.79,444.70 L543.94,444.18 L545.54,443.34 L546.22,442.74 L546.90,442.06 L547.85,441.22 L548.78,440.37 L549.54,439.40 L550.39,438.60 L551.34,437.71 L552.07,436.67 L553.28,435.69 L554.01,434.87 L554.72,434.16 L555.52,433.21 L556.40,431.89 L557.63,430.98 L558.24,429.89 L559.32,428.95 L560.09,427.68 L561.29,426.84 L561.79,425.66 L562.63,424.83 L563.43,423.98 L564.13,423.01 L565.09,421.57 L565.84,420.10 L566.40,419.00 L566.88,417.73 L567.25,416.80 L567.75,415.66 L567.80,415.00" fill="none" stroke="#f59022" stroke-width="1.1" stroke-linejoin="round" stroke-linecap="round"/>
<path d="M569.6,465.5 L570.4,468.0 L569.8,470.5 L570.5,472.8 L570.0,474.0" fill="none" stroke="#1414f5" stroke-width="2.4" stroke-linejoin="round" stroke-linecap="round" opacity="1.0"/>
<rect x="583.62" y="371.50" width="22.25" height="61.40" fill="#ff1e0a" stroke="#5a1010" stroke-width="0.6"/>
<rect x="541.90" y="459.90" width="22.25" height="23.60" fill="#ff1e0a" stroke="#5a1010" stroke-width="0.6"/>
<polygon points="526.44,462.04 531.04,466.63 526.97,470.70 531.04,474.77 526.44,479.36 522.38,475.30 518.31,479.36 513.71,474.77 517.78,470.70 513.71,466.63 518.31,462.04 522.38,466.10" fill="#2f8a1f"/>
<polygon points="566.93,410.90 567.79,412.83 569.88,413.04 568.31,414.45 568.76,416.51 566.93,415.45 565.11,416.51 565.55,414.45 563.99,413.04 566.08,412.83" fill="#000"/>
<polygon points="533.55,375.80 534.41,377.73 536.50,377.94 534.93,379.35 535.38,381.41 533.55,380.35 531.73,381.41 532.17,379.35 530.61,377.94 532.70,377.73" fill="#000"/>
<polygon points="555.81,397.40 556.66,399.33 558.75,399.54 557.19,400.95 557.63,403.01 555.81,401.95 553.98,403.01 554.43,400.95 552.86,399.54 554.95,399.33" fill="#000"/>
<polygon points="644.82,435.20 645.67,437.13 647.77,437.34 646.20,438.75 646.64,440.81 644.82,439.75 643.00,440.81 643.44,438.75 641.87,437.34 643.97,437.13" fill="#000"/>
</g>
<rect x="511.3" y="373.5" width="166.90" height="108.00" fill="none" stroke="#6a6a6a" stroke-width="0.85"/>
<line x1="511.30" y1="481.5" x2="511.30" y2="483.8" stroke="#595959" stroke-width="0.7"/>
<text x="511.47" y="490.20" text-anchor="middle" font-size="7" letter-spacing="0.35" fill="#1a1a1a" stroke="#1a1a1a" stroke-width="0.22" font-family="Liberation Sans, sans-serif">−1.5</text>
<line x1="539.12" y1="481.5" x2="539.12" y2="483.8" stroke="#595959" stroke-width="0.7"/>
<text x="539.29" y="490.20" text-anchor="middle" font-size="7" letter-spacing="0.35" fill="#1a1a1a" stroke="#1a1a1a" stroke-width="0.22" font-family="Liberation Sans, sans-serif">−1.0</text>
<line x1="566.93" y1="481.5" x2="566.93" y2="483.8" stroke="#595959" stroke-width="0.7"/>
<text x="567.10" y="490.20" text-anchor="middle" font-size="7" letter-spacing="0.35" fill="#1a1a1a" stroke="#1a1a1a" stroke-width="0.22" font-family="Liberation Sans, sans-serif">−0.5</text>
<line x1="594.75" y1="481.5" x2="594.75" y2="483.8" stroke="#595959" stroke-width="0.7"/>
<text x="594.92" y="490.20" text-anchor="middle" font-size="7" letter-spacing="0.35" fill="#1a1a1a" stroke="#1a1a1a" stroke-width="0.22" font-family="Liberation Sans, sans-serif">0.0</text>
<line x1="622.57" y1="481.5" x2="622.57" y2="483.8" stroke="#595959" stroke-width="0.7"/>
<text x="622.74" y="490.20" text-anchor="middle" font-size="7" letter-spacing="0.35" fill="#1a1a1a" stroke="#1a1a1a" stroke-width="0.22" font-family="Liberation Sans, sans-serif">0.5</text>
<line x1="650.38" y1="481.5" x2="650.38" y2="483.8" stroke="#595959" stroke-width="0.7"/>
<text x="650.55" y="490.20" text-anchor="middle" font-size="7" letter-spacing="0.35" fill="#1a1a1a" stroke="#1a1a1a" stroke-width="0.22" font-family="Liberation Sans, sans-serif">1.0</text>
<line x1="678.20" y1="481.5" x2="678.20" y2="483.8" stroke="#595959" stroke-width="0.7"/>
<text x="678.37" y="490.20" text-anchor="middle" font-size="7" letter-spacing="0.35" fill="#1a1a1a" stroke="#1a1a1a" stroke-width="0.22" font-family="Liberation Sans, sans-serif">1.5</text>
<line x1="509.0" y1="481.50" x2="511.3" y2="481.50" stroke="#595959" stroke-width="0.7"/>
<text x="507.45" y="484.00" text-anchor="end" font-size="7" letter-spacing="0.35" fill="#1a1a1a" stroke="#1a1a1a" stroke-width="0.22" font-family="Liberation Sans, sans-serif">−1.0</text>
<line x1="509.0" y1="454.50" x2="511.3" y2="454.50" stroke="#595959" stroke-width="0.7"/>
<text x="507.45" y="457.00" text-anchor="end" font-size="7" letter-spacing="0.35" fill="#1a1a1a" stroke="#1a1a1a" stroke-width="0.22" font-family="Liberation Sans, sans-serif">−0.5</text>
<line x1="509.0" y1="427.50" x2="511.3" y2="427.50" stroke="#595959" stroke-width="0.7"/>
<text x="507.45" y="430.00" text-anchor="end" font-size="7" letter-spacing="0.35" fill="#1a1a1a" stroke="#1a1a1a" stroke-width="0.22" font-family="Liberation Sans, sans-serif">0.0</text>
<line x1="509.0" y1="400.50" x2="511.3" y2="400.50" stroke="#595959" stroke-width="0.7"/>
<text x="507.45" y="403.00" text-anchor="end" font-size="7" letter-spacing="0.35" fill="#1a1a1a" stroke="#1a1a1a" stroke-width="0.22" font-family="Liberation Sans, sans-serif">0.5</text>
<line x1="509.0" y1="373.50" x2="511.3" y2="373.50" stroke="#595959" stroke-width="0.7"/>
<text x="507.45" y="376.00" text-anchor="end" font-size="7" letter-spacing="0.35" fill="#1a1a1a" stroke="#1a1a1a" stroke-width="0.22" font-family="Liberation Sans, sans-serif">1.0</text>
<text x="594.90" y="498.70" text-anchor="middle" font-size="7.4" letter-spacing="0.3" fill="#1a1a1a" stroke="#1a1a1a" stroke-width="0.2" font-family="Liberation Sans, sans-serif">X [m]</text>
<text x="486.80" y="427.65" transform="rotate(-90 486.80 427.50)" text-anchor="middle" font-size="7.4" letter-spacing="0.3" fill="#1a1a1a" stroke="#1a1a1a" stroke-width="0.2" font-family="Liberation Sans, sans-serif">Y [m]</text>
<defs><clipPath id="c20"><rect x="50.5" y="521.6" width="167.00" height="107.90"/></clipPath></defs>
<g clip-path="url(#c20)">
<path d="M57.25,605.15 L57.83,604.94 L58.65,603.90 L59.70,603.37 L60.61,602.14 L61.59,601.25 L62.87,600.22 L63.75,599.53 L64.78,598.64 L66.17,598.22 L67.15,597.25 L68.13,596.48 L69.28,596.02 L70.75,595.13 L72.15,594.78 L73.27,594.67 L74.70,593.85 L75.71,593.99 L76.79,593.20 L78.49,593.33 L80.06,593.40 L81.17,593.47 L82.52,593.12 L83.99,593.04 L85.15,593.22 L86.52,593.57 L88.10,593.49 L89.09,593.67 L90.47,594.10 L91.78,594.67 L93.22,594.84 L94.08,595.40 L95.61,595.75 L96.46,596.63 L97.34,596.93 L98.94,597.95 L99.73,598.24 L101.04,599.42 L102.02,600.46 L103.04,600.98 L103.49,601.80 L104.56,602.85 L105.24,603.76 L106.33,605.21 L106.87,606.67 L107.70,607.28 L108.12,608.93 L108.53,609.97 L108.38,611.57 L108.44,613.72 L108.34,614.96 L109.75,615.58 L110.29,615.52 L111.30,615.53 L112.28,614.87 L113.06,614.35 L114.63,613.90 L115.44,613.47 L117.01,613.37 L118.41,612.80 L119.42,611.70 L121.24,611.29 L122.57,610.68 L123.57,609.98 L124.82,609.75 L126.38,608.76 L127.46,608.16 L128.29,607.88 L129.60,607.34 L130.74,606.33 L131.74,605.17 L133.20,604.88 L133.75,604.09 L134.96,602.88 L135.67,602.45 L136.43,601.58 L137.09,600.33 L138.22,599.30 L138.83,598.78 L139.86,597.75 L140.69,596.34 L141.53,595.56 L142.71,594.82 L143.23,593.87 L144.01,593.19 L144.73,592.11 L145.37,591.71 L146.33,590.44 L147.06,589.55 L147.92,588.47 L149.04,587.74 L149.57,587.05 L150.38,585.85 L151.72,584.83 L152.35,584.37 L153.46,583.03 L154.06,582.49 L154.92,581.80 L155.66,580.96 L156.72,579.66 L157.57,578.75 L158.61,578.00 L159.63,577.36 L160.19,576.30 L161.25,575.44 L162.32,574.54 L163.00,573.96 L163.76,573.27 L164.75,572.35 L165.78,571.29 L166.57,570.30 L167.34,569.95 L168.34,568.99 L169.10,568.09 L170.16,567.21 L171.02,566.09 L171.94,565.35 L172.73,564.82 L173.74,563.78 L175.05,563.17 L175.95,562.38 L176.38,561.17 L177.22,560.58 L178.53,559.53 L179.27,558.89 L180.35,557.80 L181.33,557.03 L182.06,556.10 L182.60,555.74 L183.86,554.80 L184.26,553.56 L185.29,552.73 L186.34,551.91 L187.14,550.92 L188.50,549.89 L189.59,549.18 L190.47,548.03 L191.23,547.37 L192.10,546.01 L193.32,545.59 L193.85,544.24 L195.06,543.73 L195.36,542.67 L196.18,542.22 L196.98,541.53 L198.01,540.29 L199.16,539.24 L200.25,538.38 L200.90,536.88 L202.18,536.14 L202.93,535.43 L203.48,534.70 L204.00,533.67 L204.16,533.08 L205.25,531.21 L205.84,529.57 L206.02,528.36 L206.82,527.43 L207.35,526.35" fill="none" stroke="#a83434" stroke-width="1.1" stroke-linejoin="round" stroke-linecap="round"/>
<path d="M58.10,606.00 L58.58,605.43 L59.88,604.66 L60.62,603.43 L61.43,602.44 L62.83,601.27 L63.94,600.23 L65.33,599.71 L66.15,598.68 L67.48,598.10 L68.92,597.36 L69.71,597.07 L70.80,596.29 L72.12,595.94 L73.43,595.47 L74.54,594.99 L76.17,594.55 L77.62,594.56 L78.55,594.05 L80.06,593.88 L81.22,593.86 L82.67,594.09 L84.19,593.71 L85.48,593.99 L86.88,593.92 L88.06,594.01 L90.01,594.76 L90.62,595.05 L92.39,595.31 L93.03,595.69 L94.43,595.97 L95.67,596.38 L97.06,597.37 L97.98,598.18 L99.09,598.43 L99.91,599.11 L100.83,600.32 L102.38,600.87 L102.95,601.97 L104.28,603.06 L104.69,603.88 L106.00,604.95 L106.48,605.74 L107.53,607.00 L107.88,608.35 L108.44,609.73 L108.83,610.41 L109.19,612.39 L109.05,614.24 L108.85,616.10 L108.85,617.14 L109.88,617.67 L110.87,617.55 L111.82,617.53 L112.67,617.88 L113.58,617.05 L115.03,616.84 L116.51,616.37 L117.94,616.51 L119.29,615.81 L120.37,615.52 L121.91,614.91 L123.16,614.47 L124.68,614.29 L126.07,613.46 L126.83,613.28 L128.04,612.90 L129.37,612.28 L130.91,612.11 L132.69,612.00 L133.91,611.67 L135.19,611.06 L136.25,610.32 L137.28,610.27 L138.11,609.82 L139.59,609.29 L140.67,608.50 L141.64,608.14 L142.51,606.93 L143.95,606.31 L144.57,605.67 L145.76,604.86 L146.85,604.12 L148.05,603.38 L148.91,602.64 L150.55,602.30 L151.19,601.93 L152.37,600.85 L153.58,600.32 L154.49,599.83 L155.33,598.97 L156.18,597.98 L157.34,596.71 L157.99,595.71 L158.68,595.25 L159.33,594.24 L160.09,592.54 L160.61,591.66 L160.29,590.55 L160.73,589.09 L161.64,587.64 L161.70,586.50" fill="none" stroke="#1414f5" stroke-width="1.1" stroke-linejoin="round" stroke-linecap="round"/>
<path d="M58.90,606.80 L59.66,605.96 L60.43,605.07 L61.01,604.28 L61.90,603.34 L63.12,602.07 L64.55,601.13 L65.75,600.38 L66.83,599.57 L68.00,599.04 L68.70,598.26 L70.01,597.63 L71.43,597.08 L72.28,596.27 L73.85,596.19 L75.20,595.19 L76.47,594.91 L77.78,595.13 L78.85,595.05 L80.56,594.51 L81.60,594.57 L83.38,594.61 L84.28,594.25 L85.64,594.80 L87.06,594.76 L88.50,595.04 L89.92,594.97 L91.42,595.53 L92.50,596.07 L93.86,595.98 L94.67,596.55 L95.95,597.53 L97.28,597.58 L98.00,598.70 L99.40,599.12 L100.36,599.72 L101.66,600.68 L102.70,601.67 L103.17,602.37 L104.18,603.64 L105.26,604.01 L105.88,605.32 L106.88,606.63 L107.55,607.69 L107.95,609.05 L108.72,609.87 L109.27,611.61 L109.43,612.34 L110.10,613.63 L110.00,614.95 L110.09,616.16 L110.32,617.59 L110.61,618.34 L110.25,620.30 L110.32,621.72 L110.04,622.76 L109.81,623.16 L109.68,622.46 L110.48,620.52 L110.83,620.44 L112.07,620.26 L113.14,620.22 L114.38,620.35 L115.48,620.38 L117.14,620.81 L118.79,620.32 L119.66,620.11 L120.81,619.91 L121.72,620.22 L123.18,619.76 L124.47,619.47 L125.46,619.10 L126.81,619.02 L128.36,618.93 L129.79,618.54 L131.08,618.43 L131.83,617.89 L133.36,618.14 L134.46,617.70 L135.79,617.43 L136.86,616.84 L138.71,616.35 L139.61,615.83 L140.86,615.63 L142.50,615.26 L143.58,614.92 L144.94,615.04 L146.16,614.34 L147.35,614.60 L148.68,613.78 L150.14,614.11 L151.10,613.49 L152.22,613.64 L153.85,613.61 L155.07,613.25 L155.90,613.48 L157.37,613.12 L158.71,612.90 L159.45,612.76 L160.61,612.70 L161.98,612.41 L163.36,612.04 L164.49,611.65 L166.02,611.77 L167.30,611.20 L168.29,611.38 L169.35,610.73 L170.46,610.51 L172.07,610.24 L173.33,610.21 L174.42,610.07 L175.72,609.86 L177.04,609.40 L178.42,609.10 L179.68,609.16 L180.96,608.62 L182.16,608.78 L183.10,608.08 L184.22,608.24 L184.96,607.39 L186.84,607.31 L188.51,606.63 L189.97,606.04 L191.00,605.46 L191.57,605.02 L192.52,604.80 L194.16,603.67 L195.19,602.93 L195.38,602.29 L196.66,603.05 L197.28,603.00 L199.50,602.99 L200.90,602.90" fill="none" stroke="#2c8a2c" stroke-width="1.1" stroke-linejoin="round" stroke-linecap="round"/>
<path d="M58.20,606.20 L58.98,605.68 L59.61,604.92 L60.59,604.12 L61.42,603.37 L62.42,602.35 L63.51,601.37 L64.73,600.59 L65.62,599.73 L66.90,599.12 L68.28,598.29 L69.17,597.47 L70.37,596.92 L71.54,596.27 L72.93,595.96 L73.92,595.70 L75.24,595.26 L76.57,595.32 L78.20,595.12 L79.50,595.34 L80.66,594.99 L82.09,594.76 L83.00,594.12 L84.24,593.33 L85.30,592.70 L86.23,591.81 L87.34,590.82 L88.56,589.61 L89.53,588.96 L90.22,587.61 L90.98,587.02 L91.72,585.96 L92.51,584.82 L93.18,583.51 L94.10,582.40 L94.64,581.69 L95.47,580.68 L96.29,579.41 L97.00,578.60 L98.22,577.27 L99.20,576.39 L100.18,575.42 L100.96,574.85 L101.93,573.85 L102.74,572.50 L103.55,571.26 L104.27,570.17 L104.86,569.04 L105.50,567.74 L105.94,566.28 L106.37,564.80 L106.29,563.99 L107.01,563.24 L107.20,563.00" fill="none" stroke="#f59022" stroke-width="1.1" stroke-linejoin="round" stroke-linecap="round"/>
<path d="M109.8,612.5 L109.0,615.0 L109.9,617.5 L109.1,620.0 L109.6,622.5" fill="none" stroke="#2c8a2c" stroke-width="2.2" stroke-linejoin="round" stroke-linecap="round" opacity="1.0"/>
<rect x="122.87" y="519.60" width="22.27" height="61.35" fill="#ff1e0a" stroke="#5a1010" stroke-width="0.6"/>
<rect x="81.12" y="607.92" width="22.27" height="23.58" fill="#ff1e0a" stroke="#5a1010" stroke-width="0.6"/>
<polygon points="65.65,610.05 70.25,614.64 66.18,618.71 70.25,622.78 65.65,627.37 61.58,623.31 57.52,627.37 52.92,622.78 56.99,618.71 52.92,614.64 57.52,610.05 61.58,614.11" fill="#2f8a1f"/>
<polygon points="106.17,558.96 107.02,560.89 109.11,561.10 107.55,562.51 107.99,564.57 106.17,563.51 104.34,564.57 104.79,562.51 103.22,561.10 105.31,560.89" fill="#000"/>
<polygon points="207.48,523.89 208.33,525.82 210.43,526.04 208.86,527.44 209.30,529.50 207.48,528.45 205.66,529.50 206.10,527.44 204.53,526.04 206.63,525.82" fill="#000"/>
<polygon points="161.83,583.24 162.69,585.17 164.78,585.38 163.21,586.79 163.66,588.85 161.83,587.79 160.01,588.85 160.45,586.79 158.89,585.38 160.98,585.17" fill="#000"/>
<polygon points="200.80,599.42 201.65,601.35 203.75,601.57 202.18,602.97 202.62,605.03 200.80,603.98 198.98,605.03 199.42,602.97 197.85,601.57 199.95,601.35" fill="#000"/>
</g>
<rect x="50.5" y="521.6" width="167.00" height="107.90" fill="none" stroke="#6a6a6a" stroke-width="0.85"/>
<line x1="50.50" y1="629.5" x2="50.50" y2="631.8" stroke="#595959" stroke-width="0.7"/>
<text x="50.67" y="638.20" text-anchor="middle" font-size="7" letter-spacing="0.35" fill="#1a1a1a" stroke="#1a1a1a" stroke-width="0.22" font-family="Liberation Sans, sans-serif">−1.5</text>
<line x1="78.33" y1="629.5" x2="78.33" y2="631.8" stroke="#595959" stroke-width="0.7"/>
<text x="78.50" y="638.20" text-anchor="middle" font-size="7" letter-spacing="0.35" fill="#1a1a1a" stroke="#1a1a1a" stroke-width="0.22" font-family="Liberation Sans, sans-serif">−1.0</text>
<line x1="106.17" y1="629.5" x2="106.17" y2="631.8" stroke="#595959" stroke-width="0.7"/>
<text x="106.34" y="638.20" text-anchor="middle" font-size="7" letter-spacing="0.35" fill="#1a1a1a" stroke="#1a1a1a" stroke-width="0.22" font-family="Liberation Sans, sans-serif">−0.5</text>
<line x1="134.00" y1="629.5" x2="134.00" y2="631.8" stroke="#595959" stroke-width="0.7"/>
<text x="134.17" y="638.20" text-anchor="middle" font-size="7" letter-spacing="0.35" fill="#1a1a1a" stroke="#1a1a1a" stroke-width="0.22" font-family="Liberation Sans, sans-serif">0.0</text>
<line x1="161.83" y1="629.5" x2="161.83" y2="631.8" stroke="#595959" stroke-width="0.7"/>
<text x="162.00" y="638.20" text-anchor="middle" font-size="7" letter-spacing="0.35" fill="#1a1a1a" stroke="#1a1a1a" stroke-width="0.22" font-family="Liberation Sans, sans-serif">0.5</text>
<line x1="189.67" y1="629.5" x2="189.67" y2="631.8" stroke="#595959" stroke-width="0.7"/>
<text x="189.84" y="638.20" text-anchor="middle" font-size="7" letter-spacing="0.35" fill="#1a1a1a" stroke="#1a1a1a" stroke-width="0.22" font-family="Liberation Sans, sans-serif">1.0</text>
<line x1="217.50" y1="629.5" x2="217.50" y2="631.8" stroke="#595959" stroke-width="0.7"/>
<text x="217.67" y="638.20" text-anchor="middle" font-size="7" letter-spacing="0.35" fill="#1a1a1a" stroke="#1a1a1a" stroke-width="0.22" font-family="Liberation Sans, sans-serif">1.5</text>
<line x1="48.2" y1="629.50" x2="50.5" y2="629.50" stroke="#595959" stroke-width="0.7"/>
<text x="46.65" y="632.00" text-anchor="end" font-size="7" letter-spacing="0.35" fill="#1a1a1a" stroke="#1a1a1a" stroke-width="0.22" font-family="Liberation Sans, sans-serif">−1.0</text>
<line x1="48.2" y1="602.52" x2="50.5" y2="602.52" stroke="#595959" stroke-width="0.7"/>
<text x="46.65" y="605.02" text-anchor="end" font-size="7" letter-spacing="0.35" fill="#1a1a1a" stroke="#1a1a1a" stroke-width="0.22" font-family="Liberation Sans, sans-serif">−0.5</text>
<line x1="48.2" y1="575.55" x2="50.5" y2="575.55" stroke="#595959" stroke-width="0.7"/>
<text x="46.65" y="578.05" text-anchor="end" font-size="7" letter-spacing="0.35" fill="#1a1a1a" stroke="#1a1a1a" stroke-width="0.22" font-family="Liberation Sans, sans-serif">0.0</text>
<line x1="48.2" y1="548.58" x2="50.5" y2="548.58" stroke="#595959" stroke-width="0.7"/>
<text x="46.65" y="551.08" text-anchor="end" font-size="7" letter-spacing="0.35" fill="#1a1a1a" stroke="#1a1a1a" stroke-width="0.22" font-family="Liberation Sans, sans-serif">0.5</text>
<line x1="48.2" y1="521.60" x2="50.5" y2="521.60" stroke="#595959" stroke-width="0.7"/>
<text x="46.65" y="524.10" text-anchor="end" font-size="7" letter-spacing="0.35" fill="#1a1a1a" stroke="#1a1a1a" stroke-width="0.22" font-family="Liberation Sans, sans-serif">1.0</text>
<text x="134.15" y="646.70" text-anchor="middle" font-size="7.4" letter-spacing="0.3" fill="#1a1a1a" stroke="#1a1a1a" stroke-width="0.2" font-family="Liberation Sans, sans-serif">X [m]</text>
<text x="26.00" y="575.70" transform="rotate(-90 26.00 575.55)" text-anchor="middle" font-size="7.4" letter-spacing="0.3" fill="#1a1a1a" stroke="#1a1a1a" stroke-width="0.2" font-family="Liberation Sans, sans-serif">Y [m]</text>
<defs><clipPath id="c21"><rect x="284.4" y="521.6" width="167.20" height="107.90"/></clipPath></defs>
<g clip-path="url(#c21)">
<path d="M292.95,605.25 L293.40,604.43 L294.18,603.51 L294.99,602.78 L296.27,601.70 L297.34,600.21 L298.65,599.53 L299.61,598.48 L300.67,597.96 L301.97,596.95 L302.81,596.01 L303.95,595.85 L305.04,594.99 L306.17,594.41 L307.67,593.93 L308.78,594.11 L309.92,593.59 L311.36,593.12 L312.60,592.89 L314.37,593.23 L315.73,592.74 L316.88,592.97 L318.14,593.24 L319.28,593.73 L320.53,593.91 L322.23,594.07 L323.31,594.77 L324.38,594.98 L326.01,595.29 L327.25,595.79 L328.32,596.39 L329.46,596.64 L330.94,597.35 L331.92,597.87 L333.09,598.65 L334.43,599.49 L335.22,600.14 L335.80,600.90 L337.03,602.24 L337.55,603.38 L338.50,604.32 L338.83,605.74 L339.72,606.54 L340.86,607.84 L341.69,608.37 L342.17,609.81 L343.32,610.11 L343.93,610.69 L345.07,610.96 L346.79,611.01 L347.94,610.49 L349.42,610.70 L351.27,609.92 L352.14,609.89 L353.38,609.22 L354.44,609.08 L355.49,608.69 L356.59,608.40 L357.81,607.79 L358.94,607.67 L360.10,606.88 L361.79,606.31 L362.51,605.74 L363.85,605.04 L364.77,604.87 L365.56,603.89 L367.01,603.27 L367.82,602.14 L368.95,601.56 L370.18,600.72 L371.02,600.15 L372.28,599.17 L372.97,598.55 L374.22,597.55 L375.29,597.00 L375.92,596.07 L376.88,594.79 L378.10,594.07 L378.87,593.24 L379.98,592.51 L380.25,591.52 L381.31,590.57 L382.29,589.70 L382.73,589.20 L383.73,587.67 L384.65,586.69 L385.50,585.49 L385.97,583.92 L386.70,583.13 L387.22,582.12 L387.18,580.34 L387.30,579.27 L387.38,577.36 L387.88,576.28 L387.67,575.07 L388.49,573.58 L388.53,572.53 L389.43,571.25 L390.87,569.95 L391.41,568.78 L391.76,568.25 L392.31,567.76 L393.31,566.46 L394.23,565.59 L395.52,564.88 L396.30,563.84 L397.06,562.77 L398.68,562.04 L399.49,560.93 L399.94,559.99 L401.07,559.36 L401.98,558.56 L403.04,557.59 L404.18,556.58 L405.27,555.89 L405.73,554.81 L407.04,553.95 L408.05,552.98 L408.82,552.38 L409.75,551.44 L410.94,550.51 L411.72,549.72 L412.72,548.67 L413.47,547.36 L414.82,546.10 L415.92,545.10 L416.67,544.18 L417.76,543.45 L418.50,542.48 L419.18,541.70 L419.62,540.55 L420.57,539.72 L421.58,538.18 L421.63,536.69 L422.42,535.99 L422.48,534.73 L422.79,534.01 L424.39,532.32 L425.37,532.18 L427.08,531.96 L428.75,531.65" fill="none" stroke="#a83434" stroke-width="1.1" stroke-linejoin="round" stroke-linecap="round"/>
<path d="M293.80,606.00 L294.22,605.22 L295.14,604.44 L295.99,603.34 L297.19,602.35 L298.17,601.12 L299.17,600.57 L299.91,598.99 L300.82,598.59 L301.87,597.70 L302.93,596.96 L304.46,596.36 L305.56,595.67 L306.78,595.25 L307.97,595.42 L309.34,594.71 L310.29,594.27 L311.95,594.14 L313.42,593.72 L314.49,594.13 L315.88,593.91 L316.84,593.70 L318.25,594.31 L319.97,594.11 L321.47,594.30 L322.41,595.21 L323.50,595.59 L325.00,595.46 L326.09,596.19 L327.31,596.86 L328.44,597.36 L329.57,597.32 L331.25,597.97 L332.48,598.97 L333.65,599.37 L334.50,600.21 L335.45,600.96 L336.45,601.67 L337.56,602.35 L338.69,603.08 L339.21,604.47 L339.99,605.32 L340.88,606.28 L340.72,607.36 L341.40,608.70 L341.43,610.20 L341.66,611.18 L342.58,612.20 L343.89,612.85 L344.89,613.43 L346.11,613.66 L347.21,614.42 L348.41,614.56 L349.37,614.52 L351.49,614.09 L352.47,613.80 L353.28,613.57 L354.34,612.95 L355.45,612.69 L357.01,612.24 L358.54,611.68 L359.69,611.33 L361.07,611.20 L362.54,610.24 L363.64,610.06 L365.14,609.31 L366.00,609.30 L367.27,608.62 L368.44,608.22 L369.71,607.44 L370.93,607.19 L371.81,606.47 L372.91,606.36 L374.38,605.47 L375.32,604.96 L376.34,604.51 L377.48,604.51 L378.90,603.93 L379.49,603.30 L381.13,602.85 L382.43,602.00 L383.27,601.36 L384.77,600.85 L385.30,600.19 L386.41,599.21 L387.71,598.89 L388.46,597.87 L389.63,597.41 L390.70,596.28 L391.58,595.28 L392.25,594.00 L393.14,593.19 L393.84,591.87 L394.57,590.75 L395.09,589.13 L395.53,588.27 L395.39,587.20 L395.80,586.20" fill="none" stroke="#1414f5" stroke-width="1.1" stroke-linejoin="round" stroke-linecap="round"/>
<path d="M294.60,606.70 L294.94,605.89 L295.75,605.07 L296.58,604.48 L297.59,603.25 L298.35,602.16 L299.57,601.00 L300.60,600.11 L301.14,598.84 L302.42,598.48 L303.35,597.63 L304.80,597.19 L305.41,596.51 L306.55,595.84 L308.20,595.65 L309.43,595.26 L310.62,594.79 L311.99,594.96 L313.52,594.45 L314.54,594.35 L316.25,594.44 L317.50,594.73 L318.45,594.78 L319.75,595.09 L321.30,595.05 L322.94,595.42 L323.72,596.15 L325.27,596.60 L326.43,596.82 L328.06,597.31 L329.26,597.57 L330.21,597.98 L331.52,598.57 L332.53,599.83 L333.85,600.39 L334.94,600.71 L336.32,601.46 L338.40,602.07 L339.52,602.89 L340.60,603.00" fill="none" stroke="#2c8a2c" stroke-width="1.1" stroke-linejoin="round" stroke-linecap="round"/>
<path d="M292.20,605.60 L292.78,605.07 L293.02,604.28 L293.85,603.46 L294.60,602.26 L295.55,600.95 L296.41,599.77 L297.14,598.87 L297.54,598.17 L298.07,597.17 L299.01,596.07 L299.62,595.13 L300.51,594.06 L301.18,592.71 L301.73,591.66 L302.69,590.86 L303.06,589.64 L303.86,588.38 L304.44,587.55 L305.20,586.21 L305.92,585.03 L306.50,583.89 L307.33,582.80 L307.90,581.67 L308.34,580.68 L309.05,579.54 L309.42,578.39 L310.03,577.83 L311.02,576.21 L311.47,575.26 L312.36,574.31 L312.88,573.52 L313.32,572.52 L314.00,571.48 L314.97,570.46 L315.34,568.92 L316.29,567.66 L316.63,566.68 L317.44,565.00 L318.33,563.69 L318.90,562.80" fill="none" stroke="#f59022" stroke-width="1.1" stroke-linejoin="round" stroke-linecap="round"/>
<rect x="356.85" y="519.60" width="22.29" height="61.35" fill="#ff1e0a" stroke="#5a1010" stroke-width="0.6"/>
<rect x="315.05" y="607.92" width="22.29" height="23.58" fill="#ff1e0a" stroke="#5a1010" stroke-width="0.6"/>
<polygon points="299.56,610.05 304.16,614.64 300.09,618.71 304.16,622.78 299.56,627.37 295.50,623.31 291.43,627.37 286.83,622.78 290.90,618.71 286.83,614.64 291.43,610.05 295.50,614.11" fill="#2f8a1f"/>
<polygon points="317.84,558.96 318.69,560.89 320.79,561.10 319.22,562.51 319.66,564.57 317.84,563.51 316.02,564.57 316.46,562.51 314.89,561.10 316.99,560.89" fill="#000"/>
<polygon points="429.31,529.29 430.16,531.22 432.25,531.43 430.69,532.84 431.13,534.90 429.31,533.84 427.48,534.90 427.93,532.84 426.36,531.43 428.45,531.22" fill="#000"/>
<polygon points="395.87,583.24 396.72,585.17 398.81,585.38 397.25,586.79 397.69,588.85 395.87,587.79 394.04,588.85 394.49,586.79 392.92,585.38 395.01,585.17" fill="#000"/>
<polygon points="340.13,599.42 340.99,601.35 343.08,601.57 341.51,602.97 341.96,605.03 340.13,603.98 338.31,605.03 338.75,602.97 337.19,601.57 339.28,601.35" fill="#000"/>
</g>
<rect x="284.4" y="521.6" width="167.20" height="107.90" fill="none" stroke="#6a6a6a" stroke-width="0.85"/>
<line x1="284.40" y1="629.5" x2="284.40" y2="631.8" stroke="#595959" stroke-width="0.7"/>
<text x="284.57" y="638.20" text-anchor="middle" font-size="7" letter-spacing="0.35" fill="#1a1a1a" stroke="#1a1a1a" stroke-width="0.22" font-family="Liberation Sans, sans-serif">−1.5</text>
<line x1="312.27" y1="629.5" x2="312.27" y2="631.8" stroke="#595959" stroke-width="0.7"/>
<text x="312.44" y="638.20" text-anchor="middle" font-size="7" letter-spacing="0.35" fill="#1a1a1a" stroke="#1a1a1a" stroke-width="0.22" font-family="Liberation Sans, sans-serif">−1.0</text>
<line x1="340.13" y1="629.5" x2="340.13" y2="631.8" stroke="#595959" stroke-width="0.7"/>
<text x="340.30" y="638.20" text-anchor="middle" font-size="7" letter-spacing="0.35" fill="#1a1a1a" stroke="#1a1a1a" stroke-width="0.22" font-family="Liberation Sans, sans-serif">−0.5</text>
<line x1="368.00" y1="629.5" x2="368.00" y2="631.8" stroke="#595959" stroke-width="0.7"/>
<text x="368.17" y="638.20" text-anchor="middle" font-size="7" letter-spacing="0.35" fill="#1a1a1a" stroke="#1a1a1a" stroke-width="0.22" font-family="Liberation Sans, sans-serif">0.0</text>
<line x1="395.87" y1="629.5" x2="395.87" y2="631.8" stroke="#595959" stroke-width="0.7"/>
<text x="396.04" y="638.20" text-anchor="middle" font-size="7" letter-spacing="0.35" fill="#1a1a1a" stroke="#1a1a1a" stroke-width="0.22" font-family="Liberation Sans, sans-serif">0.5</text>
<line x1="423.73" y1="629.5" x2="423.73" y2="631.8" stroke="#595959" stroke-width="0.7"/>
<text x="423.90" y="638.20" text-anchor="middle" font-size="7" letter-spacing="0.35" fill="#1a1a1a" stroke="#1a1a1a" stroke-width="0.22" font-family="Liberation Sans, sans-serif">1.0</text>
<line x1="451.60" y1="629.5" x2="451.60" y2="631.8" stroke="#595959" stroke-width="0.7"/>
<text x="451.77" y="638.20" text-anchor="middle" font-size="7" letter-spacing="0.35" fill="#1a1a1a" stroke="#1a1a1a" stroke-width="0.22" font-family="Liberation Sans, sans-serif">1.5</text>
<line x1="282.09999999999997" y1="629.50" x2="284.4" y2="629.50" stroke="#595959" stroke-width="0.7"/>
<text x="280.55" y="632.00" text-anchor="end" font-size="7" letter-spacing="0.35" fill="#1a1a1a" stroke="#1a1a1a" stroke-width="0.22" font-family="Liberation Sans, sans-serif">−1.0</text>
<line x1="282.09999999999997" y1="602.52" x2="284.4" y2="602.52" stroke="#595959" stroke-width="0.7"/>
<text x="280.55" y="605.02" text-anchor="end" font-size="7" letter-spacing="0.35" fill="#1a1a1a" stroke="#1a1a1a" stroke-width="0.22" font-family="Liberation Sans, sans-serif">−0.5</text>
<line x1="282.09999999999997" y1="575.55" x2="284.4" y2="575.55" stroke="#595959" stroke-width="0.7"/>
<text x="280.55" y="578.05" text-anchor="end" font-size="7" letter-spacing="0.35" fill="#1a1a1a" stroke="#1a1a1a" stroke-width="0.22" font-family="Liberation Sans, sans-serif">0.0</text>
<line x1="282.09999999999997" y1="548.58" x2="284.4" y2="548.58" stroke="#595959" stroke-width="0.7"/>
<text x="280.55" y="551.08" text-anchor="end" font-size="7" letter-spacing="0.35" fill="#1a1a1a" stroke="#1a1a1a" stroke-width="0.22" font-family="Liberation Sans, sans-serif">0.5</text>
<line x1="282.09999999999997" y1="521.60" x2="284.4" y2="521.60" stroke="#595959" stroke-width="0.7"/>
<text x="280.55" y="524.10" text-anchor="end" font-size="7" letter-spacing="0.35" fill="#1a1a1a" stroke="#1a1a1a" stroke-width="0.22" font-family="Liberation Sans, sans-serif">1.0</text>
<text x="368.15" y="646.70" text-anchor="middle" font-size="7.4" letter-spacing="0.3" fill="#1a1a1a" stroke="#1a1a1a" stroke-width="0.2" font-family="Liberation Sans, sans-serif">X [m]</text>
<text x="259.90" y="575.70" transform="rotate(-90 259.90 575.55)" text-anchor="middle" font-size="7.4" letter-spacing="0.3" fill="#1a1a1a" stroke="#1a1a1a" stroke-width="0.2" font-family="Liberation Sans, sans-serif">Y [m]</text>
<defs><clipPath id="c22"><rect x="511.3" y="521.6" width="166.90" height="107.90"/></clipPath></defs>
<g clip-path="url(#c22)">
<path d="M517.75,604.35 L518.07,603.34 L517.58,602.56 L517.75,601.09 L517.89,599.52 L517.76,597.57 L518.19,596.30 L518.29,595.16 L518.81,593.68 L519.08,593.02 L519.79,591.62 L520.49,590.59 L521.22,589.35 L521.86,588.39 L521.99,587.53 L522.37,585.92 L522.69,584.88 L523.57,583.68 L523.79,582.44 L524.01,580.77 L524.76,579.82 L525.14,578.27 L525.51,576.97 L525.88,576.05 L525.74,574.66 L526.27,573.45 L526.10,572.59 L526.55,571.17 L526.87,570.20 L526.77,568.64 L526.99,567.49 L527.55,566.58 L527.96,565.21 L528.10,564.02 L528.33,563.00 L528.99,561.81 L528.92,560.51 L529.65,559.21 L530.10,558.27 L530.36,557.03 L530.67,555.88 L530.71,554.58 L531.48,553.32 L531.64,551.73 L532.31,550.95 L532.57,549.30 L533.01,547.97 L533.76,547.31 L534.28,545.73 L534.62,544.41 L535.06,543.52 L534.83,542.73 L535.37,540.84 L535.62,539.57 L536.14,538.58 L535.94,537.39 L536.10,535.67 L536.52,534.46 L536.38,533.20 L536.32,531.92 L536.30,530.59 L536.63,529.21 L536.05,528.43 L535.57,526.93 L535.10,526.27 L534.16,526.59 L533.15,526.55" fill="none" stroke="#a83434" stroke-width="1.1" stroke-linejoin="round" stroke-linecap="round"/>
<path d="M518.60,605.60 L519.21,605.07 L519.89,604.57 L520.56,604.01 L522.01,603.14 L523.01,601.96 L524.10,600.89 L524.86,600.04 L525.91,599.55 L527.09,598.63 L527.80,597.80 L529.10,597.04 L530.22,596.58 L531.66,595.70 L532.67,595.26 L533.87,594.43 L535.28,594.23 L536.70,593.86 L537.99,593.59 L539.08,593.19 L539.87,592.69 L541.06,593.03 L542.79,592.89 L543.85,592.81 L544.87,593.12 L546.54,593.11 L547.11,593.27 L548.50,594.04 L549.99,594.10 L550.74,594.26 L551.94,595.12 L553.28,595.71 L554.69,596.09 L555.55,596.66 L556.46,596.80 L557.86,597.69 L558.72,598.19 L559.63,599.31 L561.04,600.05 L562.11,600.46 L562.87,601.30 L563.75,602.51 L564.08,602.94 L564.83,604.30 L565.57,604.94 L566.45,606.45 L566.78,607.01 L567.63,608.62 L567.60,609.91 L568.39,611.72 L568.68,612.93 L568.86,613.85 L569.66,614.82 L569.59,615.88 L570.86,615.51 L572.00,615.73 L573.32,615.75 L574.57,615.24 L576.22,615.10 L577.54,615.18 L579.07,615.21 L580.03,615.00 L581.73,614.59 L582.57,614.52 L584.02,613.61 L585.10,613.83 L586.73,613.13 L588.20,613.27 L589.35,613.12 L590.32,612.63 L592.33,613.02 L593.17,612.46 L594.73,612.92 L596.11,612.60 L597.88,612.37 L599.07,611.85 L599.78,611.26 L601.27,610.79 L602.43,610.57 L602.91,609.98 L603.86,609.13 L604.80,608.65 L606.34,608.12 L606.88,607.52 L608.44,607.03 L609.67,606.48 L611.03,606.20 L612.03,605.34 L613.66,605.11 L614.87,604.52 L616.36,604.09 L617.61,604.10 L618.50,603.11 L619.68,602.58 L620.56,601.90 L621.90,601.54 L622.50,600.59 L623.76,600.39 L624.90,599.23 L625.72,598.67 L627.04,597.95 L628.08,597.83 L629.36,596.55 L630.12,595.94 L631.72,595.57 L632.80,594.81 L633.87,594.24 L635.10,593.79 L636.15,593.09 L637.45,592.31 L638.46,590.98 L639.51,590.70 L640.34,589.94 L641.09,589.26 L642.06,588.47 L642.64,587.67 L644.23,586.57 L645.00,586.20" fill="none" stroke="#1414f5" stroke-width="1.1" stroke-linejoin="round" stroke-linecap="round"/>
<path d="M518.40,605.50 L518.66,604.77 L519.94,603.95 L520.76,602.89 L521.60,601.81 L522.45,600.11 L522.94,599.04 L523.56,597.80 L524.91,597.07 L525.33,595.79 L526.35,594.72 L527.03,593.40 L527.15,592.61 L527.88,590.99 L528.23,589.71 L529.40,587.88 L529.64,587.42 L530.25,586.77 L530.84,585.87 L531.75,584.96 L532.16,583.49 L533.11,582.91 L533.80,581.44 L535.14,580.81 L535.53,579.55 L536.64,578.76 L537.49,577.82 L538.01,576.49 L538.74,575.73 L539.73,574.41 L541.09,573.61 L541.73,572.57 L542.61,571.55 L543.27,570.12 L543.91,569.15 L544.92,568.28 L545.60,567.53 L547.00,566.68 L547.40,565.75 L548.17,564.36 L549.05,563.60 L550.07,562.70 L550.81,561.59 L551.60,560.90 L552.11,559.90 L553.00,558.66 L553.73,557.76 L554.19,556.25 L554.23,555.11 L555.20,554.10 L555.40,553.46 L555.89,551.64 L555.76,550.38 L556.41,549.63 L556.25,548.86 L556.10,548.40" fill="none" stroke="#2c8a2c" stroke-width="1.1" stroke-linejoin="round" stroke-linecap="round"/>
<path d="M520.90,607.30 L521.37,606.59 L522.05,606.18 L523.01,605.36 L524.11,604.31 L525.11,603.35 L526.26,602.21 L527.46,601.21 L528.40,600.72 L529.58,599.82 L530.97,599.11 L531.96,598.51 L533.27,598.01 L534.61,597.50 L535.93,596.75 L537.07,596.43 L537.96,595.54 L539.12,595.03 L540.21,594.71 L541.14,593.91 L542.36,593.33 L543.31,592.79 L544.27,591.92 L545.34,591.29 L546.39,590.53 L546.81,589.54 L547.82,588.75 L548.59,587.95 L549.29,586.61 L550.04,585.77 L550.50,584.62 L551.52,583.65 L552.03,582.71 L553.17,581.92 L553.94,580.89 L554.72,580.10 L555.53,579.34 L556.51,578.24 L557.66,577.51 L558.23,576.46 L559.26,575.84 L559.79,575.03 L560.80,574.31 L561.68,573.15 L562.82,572.14 L563.53,571.20 L564.64,570.24 L565.29,569.20 L565.86,568.27 L566.18,566.80 L566.59,565.15 L566.49,564.01 L567.23,563.19 L567.80,563.00" fill="none" stroke="#f59022" stroke-width="1.1" stroke-linejoin="round" stroke-linecap="round"/>
<path d="M569.2,612.5 L569.9,614.5 L569.5,616.2" fill="none" stroke="#1414f5" stroke-width="1.9" stroke-linejoin="round" stroke-linecap="round" opacity="1.0"/>
<rect x="583.62" y="519.60" width="22.25" height="61.35" fill="#ff1e0a" stroke="#5a1010" stroke-width="0.6"/>
<rect x="541.90" y="607.92" width="22.25" height="23.58" fill="#ff1e0a" stroke="#5a1010" stroke-width="0.6"/>
<polygon points="526.44,610.05 531.04,614.64 526.97,618.71 531.04,622.78 526.44,627.37 522.38,623.31 518.31,627.37 513.71,622.78 517.78,618.71 513.71,614.64 518.31,610.05 522.38,614.11" fill="#2f8a1f"/>
<polygon points="566.93,558.96 567.79,560.89 569.88,561.10 568.31,562.51 568.76,564.57 566.93,563.51 565.11,564.57 565.55,562.51 563.99,561.10 566.08,560.89" fill="#000"/>
<polygon points="533.55,523.89 534.41,525.82 536.50,526.04 534.93,527.44 535.38,529.50 533.55,528.45 531.73,529.50 532.17,527.44 530.61,526.04 532.70,525.82" fill="#000"/>
<polygon points="555.81,545.48 556.66,547.40 558.75,547.62 557.19,549.02 557.63,551.08 555.81,550.03 553.98,551.08 554.43,549.02 552.86,547.62 554.95,547.40" fill="#000"/>
<polygon points="644.82,583.24 645.67,585.17 647.77,585.38 646.20,586.79 646.64,588.85 644.82,587.79 643.00,588.85 643.44,586.79 641.87,585.38 643.97,585.17" fill="#000"/>
</g>
<rect x="511.3" y="521.6" width="166.90" height="107.90" fill="none" stroke="#6a6a6a" stroke-width="0.85"/>
<line x1="511.30" y1="629.5" x2="511.30" y2="631.8" stroke="#595959" stroke-width="0.7"/>
<text x="511.47" y="638.20" text-anchor="middle" font-size="7" letter-spacing="0.35" fill="#1a1a1a" stroke="#1a1a1a" stroke-width="0.22" font-family="Liberation Sans, sans-serif">−1.5</text>
<line x1="539.12" y1="629.5" x2="539.12" y2="631.8" stroke="#595959" stroke-width="0.7"/>
<text x="539.29" y="638.20" text-anchor="middle" font-size="7" letter-spacing="0.35" fill="#1a1a1a" stroke="#1a1a1a" stroke-width="0.22" font-family="Liberation Sans, sans-serif">−1.0</text>
<line x1="566.93" y1="629.5" x2="566.93" y2="631.8" stroke="#595959" stroke-width="0.7"/>
<text x="567.10" y="638.20" text-anchor="middle" font-size="7" letter-spacing="0.35" fill="#1a1a1a" stroke="#1a1a1a" stroke-width="0.22" font-family="Liberation Sans, sans-serif">−0.5</text>
<line x1="594.75" y1="629.5" x2="594.75" y2="631.8" stroke="#595959" stroke-width="0.7"/>
<text x="594.92" y="638.20" text-anchor="middle" font-size="7" letter-spacing="0.35" fill="#1a1a1a" stroke="#1a1a1a" stroke-width="0.22" font-family="Liberation Sans, sans-serif">0.0</text>
<line x1="622.57" y1="629.5" x2="622.57" y2="631.8" stroke="#595959" stroke-width="0.7"/>
<text x="622.74" y="638.20" text-anchor="middle" font-size="7" letter-spacing="0.35" fill="#1a1a1a" stroke="#1a1a1a" stroke-width="0.22" font-family="Liberation Sans, sans-serif">0.5</text>
<line x1="650.38" y1="629.5" x2="650.38" y2="631.8" stroke="#595959" stroke-width="0.7"/>
<text x="650.55" y="638.20" text-anchor="middle" font-size="7" letter-spacing="0.35" fill="#1a1a1a" stroke="#1a1a1a" stroke-width="0.22" font-family="Liberation Sans, sans-serif">1.0</text>
<line x1="678.20" y1="629.5" x2="678.20" y2="631.8" stroke="#595959" stroke-width="0.7"/>
<text x="678.37" y="638.20" text-anchor="middle" font-size="7" letter-spacing="0.35" fill="#1a1a1a" stroke="#1a1a1a" stroke-width="0.22" font-family="Liberation Sans, sans-serif">1.5</text>
<line x1="509.0" y1="629.50" x2="511.3" y2="629.50" stroke="#595959" stroke-width="0.7"/>
<text x="507.45" y="632.00" text-anchor="end" font-size="7" letter-spacing="0.35" fill="#1a1a1a" stroke="#1a1a1a" stroke-width="0.22" font-family="Liberation Sans, sans-serif">−1.0</text>
<line x1="509.0" y1="602.52" x2="511.3" y2="602.52" stroke="#595959" stroke-width="0.7"/>
<text x="507.45" y="605.02" text-anchor="end" font-size="7" letter-spacing="0.35" fill="#1a1a1a" stroke="#1a1a1a" stroke-width="0.22" font-family="Liberation Sans, sans-serif">−0.5</text>
<line x1="509.0" y1="575.55" x2="511.3" y2="575.55" stroke="#595959" stroke-width="0.7"/>
<text x="507.45" y="578.05" text-anchor="end" font-size="7" letter-spacing="0.35" fill="#1a1a1a" stroke="#1a1a1a" stroke-width="0.22" font-family="Liberation Sans, sans-serif">0.0</text>
<line x1="509.0" y1="548.58" x2="511.3" y2="548.58" stroke="#595959" stroke-width="0.7"/>
<text x="507.45" y="551.08" text-anchor="end" font-size="7" letter-spacing="0.35" fill="#1a1a1a" stroke="#1a1a1a" stroke-width="0.22" font-family="Liberation Sans, sans-serif">0.5</text>
<line x1="509.0" y1="521.60" x2="511.3" y2="521.60" stroke="#595959" stroke-width="0.7"/>
<text x="507.45" y="524.10" text-anchor="end" font-size="7" letter-spacing="0.35" fill="#1a1a1a" stroke="#1a1a1a" stroke-width="0.22" font-family="Liberation Sans, sans-serif">1.0</text>
<text x="594.90" y="646.70" text-anchor="middle" font-size="7.4" letter-spacing="0.3" fill="#1a1a1a" stroke="#1a1a1a" stroke-width="0.2" font-family="Liberation Sans, sans-serif">X [m]</text>
<text x="486.80" y="575.70" transform="rotate(-90 486.80 575.55)" text-anchor="middle" font-size="7.4" letter-spacing="0.3" fill="#1a1a1a" stroke="#1a1a1a" stroke-width="0.2" font-family="Liberation Sans, sans-serif">Y [m]</text>
<text x="1.5" y="240.0" font-size="12.8" font-weight="bold" fill="#000" stroke="#000" stroke-width="0.3" textLength="10.4" lengthAdjust="spacingAndGlyphs" font-family="Liberation Sans, sans-serif">c)</text>
<text x="1.5" y="384.2" font-size="12.8" font-weight="bold" fill="#000" stroke="#000" stroke-width="0.3" textLength="10.6" lengthAdjust="spacingAndGlyphs" font-family="Liberation Sans, sans-serif">d)</text>
<text x="1.5" y="528.3" font-size="12.8" font-weight="bold" fill="#000" stroke="#000" stroke-width="0.3" textLength="10.4" lengthAdjust="spacingAndGlyphs" font-family="Liberation Sans, sans-serif">e)</text></svg>
</body></html>
